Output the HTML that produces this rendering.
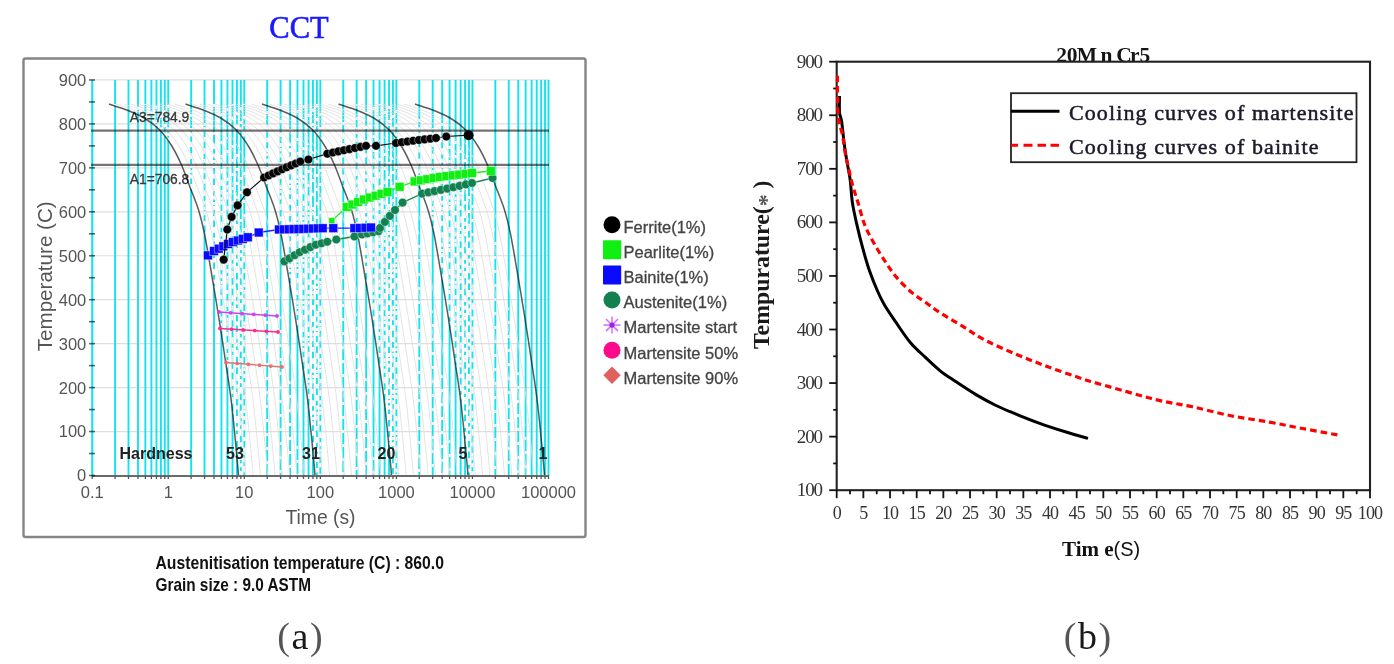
<!DOCTYPE html>
<html><head><meta charset="utf-8"><style>
html,body{margin:0;padding:0;background:#fff;overflow:hidden;}
svg{display:block;filter:blur(0.6px);}
</style></head><body>
<svg width="1394" height="664" viewBox="0 0 1394 664">
<defs><clipPath id="pa"><rect x="92" y="80" width="458" height="396"/></clipPath><clipPath id="fan"><polygon points="109,104 128,110.5 145,118.5 159.5,129.8 171.8,146 181.5,165 189.7,186.4 198.3,209.3 204.5,234 210.9,270 218.8,317.5 225.1,358.6 231.5,403 237.2,460 238.5,476 300.5,476 299.2,460 293.5,403 287.1,358.6 280.8,317.5 272.9,270 266.5,234 260.3,209.3 251.7,186.4 243.5,165 233.8,146 221.5,129.8 207,118.5 190,110.5 171,104"/><polygon points="185.5,104 204.5,110.5 221.5,118.5 236,129.8 248.3,146 258,165 266.2,186.4 274.8,209.3 281,234 287.4,270 295.3,317.5 301.6,358.6 308,403 313.7,460 315,476 377,476 375.7,460 370,403 363.6,358.6 357.3,317.5 349.4,270 343,234 336.8,209.3 328.2,186.4 320,165 310.3,146 298,129.8 283.5,118.5 266.5,110.5 247.5,104"/><polygon points="262,104 281,110.5 298,118.5 312.5,129.8 324.8,146 334.5,165 342.7,186.4 351.3,209.3 357.5,234 363.9,270 371.8,317.5 378.1,358.6 384.5,403 390.2,460 391.5,476 453.5,476 452.2,460 446.5,403 440.1,358.6 433.8,317.5 425.9,270 419.5,234 413.3,209.3 404.7,186.4 396.5,165 386.8,146 374.5,129.8 360,118.5 343,110.5 324,104"/><polygon points="338.5,104 357.5,110.5 374.5,118.5 389,129.8 401.3,146 411,165 419.2,186.4 427.8,209.3 434,234 440.4,270 448.3,317.5 454.6,358.6 461,403 466.7,460 468,476 530,476 528.7,460 523,403 516.6,358.6 510.3,317.5 502.4,270 496,234 489.8,209.3 481.2,186.4 473,165 463.3,146 451,129.8 436.5,118.5 419.5,110.5 400.5,104"/></clipPath><clipPath id="wedge"><polygon points="150,124 159.5,129.8 171.8,146 181.5,165 189.7,186.4 198.3,209.3 204.5,234 210.9,270 218.8,317.5 225.1,358.6 231.5,403 237.2,460 238.5,476 246,476 246,250 236,205 222,160 206,127"/><polygon points="226.5,124 236,129.8 248.3,146 258,165 266.2,186.4 274.8,209.3 281,234 287.4,270 295.3,317.5 301.6,358.6 308,403 313.7,460 315,476 322.5,476 322.5,250 312.5,205 298.5,160 282.5,127"/><polygon points="303,124 312.5,129.8 324.8,146 334.5,165 342.7,186.4 351.3,209.3 357.5,234 363.9,270 371.8,317.5 378.1,358.6 384.5,403 390.2,460 391.5,476 399,476 399,250 389,205 375,160 359,127"/><polygon points="379.5,124 389,129.8 401.3,146 411,165 419.2,186.4 427.8,209.3 434,234 440.4,270 448.3,317.5 454.6,358.6 461,403 466.7,460 468,476 475.5,476 475.5,250 465.5,205 451.5,160 435.5,127"/></clipPath></defs>
<rect width="1394" height="664" fill="#fff"/>
<text x="299" y="37.5" font-family="'Liberation Serif',serif" font-size="30.5" fill="#1a1aff" text-anchor="middle" stroke="#1a1aff" stroke-width="0.6">CCT</text>
<rect x="23.5" y="58.5" width="562" height="478.5" rx="2" fill="#fff" stroke="#858585" stroke-width="2.4"/>
<line x1="92" y1="431.55" x2="549" y2="431.55" stroke="#e4dcdc" stroke-width="1.2"/>
<line x1="92" y1="387.6" x2="549" y2="387.6" stroke="#e4dcdc" stroke-width="1.2"/>
<line x1="92" y1="343.65" x2="549" y2="343.65" stroke="#e4dcdc" stroke-width="1.2"/>
<line x1="92" y1="299.7" x2="549" y2="299.7" stroke="#e4dcdc" stroke-width="1.2"/>
<line x1="92" y1="255.75" x2="549" y2="255.75" stroke="#e4dcdc" stroke-width="1.2"/>
<line x1="92" y1="211.8" x2="549" y2="211.8" stroke="#e4dcdc" stroke-width="1.2"/>
<line x1="92" y1="167.85" x2="549" y2="167.85" stroke="#e4dcdc" stroke-width="1.2"/>
<line x1="92" y1="123.9" x2="549" y2="123.9" stroke="#e4dcdc" stroke-width="1.2"/>
<line x1="92" y1="79.95" x2="549" y2="79.95" stroke="#e4dcdc" stroke-width="1.2"/>
<g clip-path="url(#pa)" stroke="#12e4ee" stroke-width="1.9"><line x1="92.2" y1="80" x2="92.2" y2="476"/><line x1="115.09" y1="80" x2="115.09" y2="476"/><line x1="128.49" y1="80" x2="128.49" y2="476"/><line x1="137.99" y1="80" x2="137.99" y2="476"/><line x1="145.36" y1="80" x2="145.36" y2="476"/><line x1="151.38" y1="80" x2="151.38" y2="476"/><line x1="156.47" y1="80" x2="156.47" y2="476"/><line x1="160.88" y1="80" x2="160.88" y2="476"/><line x1="164.77" y1="80" x2="164.77" y2="476"/><line x1="168.25" y1="80" x2="168.25" y2="476"/><line x1="191.14" y1="80" x2="191.14" y2="476"/><line x1="204.54" y1="80" x2="204.54" y2="476"/><line x1="214.04" y1="80" x2="214.04" y2="476"/><line x1="221.41" y1="80" x2="221.41" y2="476"/><line x1="227.43" y1="80" x2="227.43" y2="476"/><line x1="232.52" y1="80" x2="232.52" y2="476"/><line x1="236.93" y1="80" x2="236.93" y2="476"/><line x1="240.82" y1="80" x2="240.82" y2="476"/><line x1="244.3" y1="80" x2="244.3" y2="476"/><line x1="267.19" y1="80" x2="267.19" y2="476"/><line x1="280.59" y1="80" x2="280.59" y2="476"/><line x1="290.09" y1="80" x2="290.09" y2="476"/><line x1="297.46" y1="80" x2="297.46" y2="476"/><line x1="303.48" y1="80" x2="303.48" y2="476"/><line x1="308.57" y1="80" x2="308.57" y2="476"/><line x1="312.98" y1="80" x2="312.98" y2="476"/><line x1="316.87" y1="80" x2="316.87" y2="476"/><line x1="320.35" y1="80" x2="320.35" y2="476"/><line x1="343.24" y1="80" x2="343.24" y2="476"/><line x1="356.64" y1="80" x2="356.64" y2="476"/><line x1="366.14" y1="80" x2="366.14" y2="476"/><line x1="373.51" y1="80" x2="373.51" y2="476"/><line x1="379.53" y1="80" x2="379.53" y2="476"/><line x1="384.62" y1="80" x2="384.62" y2="476"/><line x1="389.03" y1="80" x2="389.03" y2="476"/><line x1="392.92" y1="80" x2="392.92" y2="476"/><line x1="396.4" y1="80" x2="396.4" y2="476"/><line x1="419.29" y1="80" x2="419.29" y2="476"/><line x1="432.69" y1="80" x2="432.69" y2="476"/><line x1="442.19" y1="80" x2="442.19" y2="476"/><line x1="449.56" y1="80" x2="449.56" y2="476"/><line x1="455.58" y1="80" x2="455.58" y2="476"/><line x1="460.67" y1="80" x2="460.67" y2="476"/><line x1="465.08" y1="80" x2="465.08" y2="476"/><line x1="468.97" y1="80" x2="468.97" y2="476"/><line x1="472.45" y1="80" x2="472.45" y2="476"/><line x1="495.34" y1="80" x2="495.34" y2="476"/><line x1="508.74" y1="80" x2="508.74" y2="476"/><line x1="518.24" y1="80" x2="518.24" y2="476"/><line x1="525.61" y1="80" x2="525.61" y2="476"/><line x1="531.63" y1="80" x2="531.63" y2="476"/><line x1="536.72" y1="80" x2="536.72" y2="476"/><line x1="541.13" y1="80" x2="541.13" y2="476"/><line x1="545.02" y1="80" x2="545.02" y2="476"/><line x1="548.5" y1="80" x2="548.5" y2="476"/></g>
<g clip-path="url(#fan)" stroke="#fbf6f6" stroke-width="2.3" stroke-dasharray="3 11"><line x1="92.2" y1="80" x2="92.2" y2="476" stroke-dashoffset="0"/><line x1="115.09" y1="80" x2="115.09" y2="476" stroke-dashoffset="5"/><line x1="128.49" y1="80" x2="128.49" y2="476" stroke-dashoffset="10"/><line x1="137.99" y1="80" x2="137.99" y2="476" stroke-dashoffset="1"/><line x1="145.36" y1="80" x2="145.36" y2="476" stroke-dashoffset="6"/><line x1="151.38" y1="80" x2="151.38" y2="476" stroke-dashoffset="11"/><line x1="156.47" y1="80" x2="156.47" y2="476" stroke-dashoffset="2"/><line x1="160.88" y1="80" x2="160.88" y2="476" stroke-dashoffset="7"/><line x1="164.77" y1="80" x2="164.77" y2="476" stroke-dashoffset="12"/><line x1="168.25" y1="80" x2="168.25" y2="476" stroke-dashoffset="3"/><line x1="191.14" y1="80" x2="191.14" y2="476" stroke-dashoffset="8"/><line x1="204.54" y1="80" x2="204.54" y2="476" stroke-dashoffset="13"/><line x1="214.04" y1="80" x2="214.04" y2="476" stroke-dashoffset="4"/><line x1="221.41" y1="80" x2="221.41" y2="476" stroke-dashoffset="9"/><line x1="227.43" y1="80" x2="227.43" y2="476" stroke-dashoffset="0"/><line x1="232.52" y1="80" x2="232.52" y2="476" stroke-dashoffset="5"/><line x1="236.93" y1="80" x2="236.93" y2="476" stroke-dashoffset="10"/><line x1="240.82" y1="80" x2="240.82" y2="476" stroke-dashoffset="1"/><line x1="244.3" y1="80" x2="244.3" y2="476" stroke-dashoffset="6"/><line x1="267.19" y1="80" x2="267.19" y2="476" stroke-dashoffset="11"/><line x1="280.59" y1="80" x2="280.59" y2="476" stroke-dashoffset="2"/><line x1="290.09" y1="80" x2="290.09" y2="476" stroke-dashoffset="7"/><line x1="297.46" y1="80" x2="297.46" y2="476" stroke-dashoffset="12"/><line x1="303.48" y1="80" x2="303.48" y2="476" stroke-dashoffset="3"/><line x1="308.57" y1="80" x2="308.57" y2="476" stroke-dashoffset="8"/><line x1="312.98" y1="80" x2="312.98" y2="476" stroke-dashoffset="13"/><line x1="316.87" y1="80" x2="316.87" y2="476" stroke-dashoffset="4"/><line x1="320.35" y1="80" x2="320.35" y2="476" stroke-dashoffset="9"/><line x1="343.24" y1="80" x2="343.24" y2="476" stroke-dashoffset="0"/><line x1="356.64" y1="80" x2="356.64" y2="476" stroke-dashoffset="5"/><line x1="366.14" y1="80" x2="366.14" y2="476" stroke-dashoffset="10"/><line x1="373.51" y1="80" x2="373.51" y2="476" stroke-dashoffset="1"/><line x1="379.53" y1="80" x2="379.53" y2="476" stroke-dashoffset="6"/><line x1="384.62" y1="80" x2="384.62" y2="476" stroke-dashoffset="11"/><line x1="389.03" y1="80" x2="389.03" y2="476" stroke-dashoffset="2"/><line x1="392.92" y1="80" x2="392.92" y2="476" stroke-dashoffset="7"/><line x1="396.4" y1="80" x2="396.4" y2="476" stroke-dashoffset="12"/><line x1="419.29" y1="80" x2="419.29" y2="476" stroke-dashoffset="3"/><line x1="432.69" y1="80" x2="432.69" y2="476" stroke-dashoffset="8"/><line x1="442.19" y1="80" x2="442.19" y2="476" stroke-dashoffset="13"/><line x1="449.56" y1="80" x2="449.56" y2="476" stroke-dashoffset="4"/><line x1="455.58" y1="80" x2="455.58" y2="476" stroke-dashoffset="9"/><line x1="460.67" y1="80" x2="460.67" y2="476" stroke-dashoffset="0"/><line x1="465.08" y1="80" x2="465.08" y2="476" stroke-dashoffset="5"/><line x1="468.97" y1="80" x2="468.97" y2="476" stroke-dashoffset="10"/><line x1="472.45" y1="80" x2="472.45" y2="476" stroke-dashoffset="1"/><line x1="495.34" y1="80" x2="495.34" y2="476" stroke-dashoffset="6"/><line x1="508.74" y1="80" x2="508.74" y2="476" stroke-dashoffset="11"/><line x1="518.24" y1="80" x2="518.24" y2="476" stroke-dashoffset="2"/><line x1="525.61" y1="80" x2="525.61" y2="476" stroke-dashoffset="7"/><line x1="531.63" y1="80" x2="531.63" y2="476" stroke-dashoffset="12"/><line x1="536.72" y1="80" x2="536.72" y2="476" stroke-dashoffset="3"/><line x1="541.13" y1="80" x2="541.13" y2="476" stroke-dashoffset="8"/><line x1="545.02" y1="80" x2="545.02" y2="476" stroke-dashoffset="13"/><line x1="548.5" y1="80" x2="548.5" y2="476" stroke-dashoffset="4"/></g>
<g clip-path="url(#wedge)" stroke="#fbf6f6" stroke-width="2.3" stroke-dasharray="4 6.5"><line x1="92.2" y1="80" x2="92.2" y2="476" stroke-dashoffset="0.0"/><line x1="115.09" y1="80" x2="115.09" y2="476" stroke-dashoffset="5.2"/><line x1="128.49" y1="80" x2="128.49" y2="476" stroke-dashoffset="0.0"/><line x1="137.99" y1="80" x2="137.99" y2="476" stroke-dashoffset="5.2"/><line x1="145.36" y1="80" x2="145.36" y2="476" stroke-dashoffset="0.0"/><line x1="151.38" y1="80" x2="151.38" y2="476" stroke-dashoffset="5.2"/><line x1="156.47" y1="80" x2="156.47" y2="476" stroke-dashoffset="0.0"/><line x1="160.88" y1="80" x2="160.88" y2="476" stroke-dashoffset="5.2"/><line x1="164.77" y1="80" x2="164.77" y2="476" stroke-dashoffset="0.0"/><line x1="168.25" y1="80" x2="168.25" y2="476" stroke-dashoffset="5.2"/><line x1="191.14" y1="80" x2="191.14" y2="476" stroke-dashoffset="0.0"/><line x1="204.54" y1="80" x2="204.54" y2="476" stroke-dashoffset="5.2"/><line x1="214.04" y1="80" x2="214.04" y2="476" stroke-dashoffset="0.0"/><line x1="221.41" y1="80" x2="221.41" y2="476" stroke-dashoffset="5.2"/><line x1="227.43" y1="80" x2="227.43" y2="476" stroke-dashoffset="0.0"/><line x1="232.52" y1="80" x2="232.52" y2="476" stroke-dashoffset="5.2"/><line x1="236.93" y1="80" x2="236.93" y2="476" stroke-dashoffset="0.0"/><line x1="240.82" y1="80" x2="240.82" y2="476" stroke-dashoffset="5.2"/><line x1="244.3" y1="80" x2="244.3" y2="476" stroke-dashoffset="0.0"/><line x1="267.19" y1="80" x2="267.19" y2="476" stroke-dashoffset="5.2"/><line x1="280.59" y1="80" x2="280.59" y2="476" stroke-dashoffset="0.0"/><line x1="290.09" y1="80" x2="290.09" y2="476" stroke-dashoffset="5.2"/><line x1="297.46" y1="80" x2="297.46" y2="476" stroke-dashoffset="0.0"/><line x1="303.48" y1="80" x2="303.48" y2="476" stroke-dashoffset="5.2"/><line x1="308.57" y1="80" x2="308.57" y2="476" stroke-dashoffset="0.0"/><line x1="312.98" y1="80" x2="312.98" y2="476" stroke-dashoffset="5.2"/><line x1="316.87" y1="80" x2="316.87" y2="476" stroke-dashoffset="0.0"/><line x1="320.35" y1="80" x2="320.35" y2="476" stroke-dashoffset="5.2"/><line x1="343.24" y1="80" x2="343.24" y2="476" stroke-dashoffset="0.0"/><line x1="356.64" y1="80" x2="356.64" y2="476" stroke-dashoffset="5.2"/><line x1="366.14" y1="80" x2="366.14" y2="476" stroke-dashoffset="0.0"/><line x1="373.51" y1="80" x2="373.51" y2="476" stroke-dashoffset="5.2"/><line x1="379.53" y1="80" x2="379.53" y2="476" stroke-dashoffset="0.0"/><line x1="384.62" y1="80" x2="384.62" y2="476" stroke-dashoffset="5.2"/><line x1="389.03" y1="80" x2="389.03" y2="476" stroke-dashoffset="0.0"/><line x1="392.92" y1="80" x2="392.92" y2="476" stroke-dashoffset="5.2"/><line x1="396.4" y1="80" x2="396.4" y2="476" stroke-dashoffset="0.0"/><line x1="419.29" y1="80" x2="419.29" y2="476" stroke-dashoffset="5.2"/><line x1="432.69" y1="80" x2="432.69" y2="476" stroke-dashoffset="0.0"/><line x1="442.19" y1="80" x2="442.19" y2="476" stroke-dashoffset="5.2"/><line x1="449.56" y1="80" x2="449.56" y2="476" stroke-dashoffset="0.0"/><line x1="455.58" y1="80" x2="455.58" y2="476" stroke-dashoffset="5.2"/><line x1="460.67" y1="80" x2="460.67" y2="476" stroke-dashoffset="0.0"/><line x1="465.08" y1="80" x2="465.08" y2="476" stroke-dashoffset="5.2"/><line x1="468.97" y1="80" x2="468.97" y2="476" stroke-dashoffset="0.0"/><line x1="472.45" y1="80" x2="472.45" y2="476" stroke-dashoffset="5.2"/><line x1="495.34" y1="80" x2="495.34" y2="476" stroke-dashoffset="0.0"/><line x1="508.74" y1="80" x2="508.74" y2="476" stroke-dashoffset="5.2"/><line x1="518.24" y1="80" x2="518.24" y2="476" stroke-dashoffset="0.0"/><line x1="525.61" y1="80" x2="525.61" y2="476" stroke-dashoffset="5.2"/><line x1="531.63" y1="80" x2="531.63" y2="476" stroke-dashoffset="0.0"/><line x1="536.72" y1="80" x2="536.72" y2="476" stroke-dashoffset="5.2"/><line x1="541.13" y1="80" x2="541.13" y2="476" stroke-dashoffset="0.0"/><line x1="545.02" y1="80" x2="545.02" y2="476" stroke-dashoffset="5.2"/><line x1="548.5" y1="80" x2="548.5" y2="476" stroke-dashoffset="0.0"/></g>
<g clip-path="url(#pa)" fill="none" stroke="#dedede" stroke-width="0.85"><path d="M116.3,104 C119.47,105.08 129.3,108.08 135.3,110.5 C141.3,112.92 147.05,115.28 152.3,118.5 C157.55,121.72 162.33,125.22 166.8,129.8 C171.27,134.38 175.43,140.13 179.1,146 C182.77,151.87 185.82,158.27 188.8,165 C191.78,171.73 194.2,179.02 197,186.4 C199.8,193.78 203.13,201.37 205.6,209.3 C208.07,217.23 209.7,223.88 211.8,234 C213.9,244.12 215.82,256.08 218.2,270 C220.58,283.92 223.73,302.73 226.1,317.5 C228.47,332.27 230.28,344.35 232.4,358.6 C234.52,372.85 236.78,386.1 238.8,403 C240.82,419.9 243.33,447.83 244.5,460 C245.67,472.17 245.58,473.33 245.8,476"/><path d="M123.6,104 C126.77,105.08 136.6,108.08 142.6,110.5 C148.6,112.92 154.35,115.28 159.6,118.5 C164.85,121.72 169.63,125.22 174.1,129.8 C178.57,134.38 182.73,140.13 186.4,146 C190.07,151.87 193.12,158.27 196.1,165 C199.08,171.73 201.5,179.02 204.3,186.4 C207.1,193.78 210.43,201.37 212.9,209.3 C215.37,217.23 217,223.88 219.1,234 C221.2,244.12 223.12,256.08 225.5,270 C227.88,283.92 231.03,302.73 233.4,317.5 C235.77,332.27 237.58,344.35 239.7,358.6 C241.82,372.85 244.08,386.1 246.1,403 C248.12,419.9 250.63,447.83 251.8,460 C252.97,472.17 252.88,473.33 253.1,476"/><path d="M130.9,104 C134.07,105.08 143.9,108.08 149.9,110.5 C155.9,112.92 161.65,115.28 166.9,118.5 C172.15,121.72 176.93,125.22 181.4,129.8 C185.87,134.38 190.03,140.13 193.7,146 C197.37,151.87 200.42,158.27 203.4,165 C206.38,171.73 208.8,179.02 211.6,186.4 C214.4,193.78 217.73,201.37 220.2,209.3 C222.67,217.23 224.3,223.88 226.4,234 C228.5,244.12 230.42,256.08 232.8,270 C235.18,283.92 238.33,302.73 240.7,317.5 C243.07,332.27 244.88,344.35 247,358.6 C249.12,372.85 251.38,386.1 253.4,403 C255.42,419.9 257.93,447.83 259.1,460 C260.27,472.17 260.18,473.33 260.4,476"/><path d="M138.2,104 C141.37,105.08 151.2,108.08 157.2,110.5 C163.2,112.92 168.95,115.28 174.2,118.5 C179.45,121.72 184.23,125.22 188.7,129.8 C193.17,134.38 197.33,140.13 201,146 C204.67,151.87 207.72,158.27 210.7,165 C213.68,171.73 216.1,179.02 218.9,186.4 C221.7,193.78 225.03,201.37 227.5,209.3 C229.97,217.23 231.6,223.88 233.7,234 C235.8,244.12 237.72,256.08 240.1,270 C242.48,283.92 245.63,302.73 248,317.5 C250.37,332.27 252.18,344.35 254.3,358.6 C256.42,372.85 258.68,386.1 260.7,403 C262.72,419.9 265.23,447.83 266.4,460 C267.57,472.17 267.48,473.33 267.7,476"/><path d="M145.5,104 C148.67,105.08 158.5,108.08 164.5,110.5 C170.5,112.92 176.25,115.28 181.5,118.5 C186.75,121.72 191.53,125.22 196,129.8 C200.47,134.38 204.63,140.13 208.3,146 C211.97,151.87 215.02,158.27 218,165 C220.98,171.73 223.4,179.02 226.2,186.4 C229,193.78 232.33,201.37 234.8,209.3 C237.27,217.23 238.9,223.88 241,234 C243.1,244.12 245.02,256.08 247.4,270 C249.78,283.92 252.93,302.73 255.3,317.5 C257.67,332.27 259.48,344.35 261.6,358.6 C263.72,372.85 265.98,386.1 268,403 C270.02,419.9 272.53,447.83 273.7,460 C274.87,472.17 274.78,473.33 275,476"/><path d="M152.8,104 C155.97,105.08 165.8,108.08 171.8,110.5 C177.8,112.92 183.55,115.28 188.8,118.5 C194.05,121.72 198.83,125.22 203.3,129.8 C207.77,134.38 211.93,140.13 215.6,146 C219.27,151.87 222.32,158.27 225.3,165 C228.28,171.73 230.7,179.02 233.5,186.4 C236.3,193.78 239.63,201.37 242.1,209.3 C244.57,217.23 246.2,223.88 248.3,234 C250.4,244.12 252.32,256.08 254.7,270 C257.08,283.92 260.23,302.73 262.6,317.5 C264.97,332.27 266.78,344.35 268.9,358.6 C271.02,372.85 273.28,386.1 275.3,403 C277.32,419.9 279.83,447.83 281,460 C282.17,472.17 282.08,473.33 282.3,476"/><path d="M160.1,104 C163.27,105.08 173.1,108.08 179.1,110.5 C185.1,112.92 190.85,115.28 196.1,118.5 C201.35,121.72 206.13,125.22 210.6,129.8 C215.07,134.38 219.23,140.13 222.9,146 C226.57,151.87 229.62,158.27 232.6,165 C235.58,171.73 238,179.02 240.8,186.4 C243.6,193.78 246.93,201.37 249.4,209.3 C251.87,217.23 253.5,223.88 255.6,234 C257.7,244.12 259.62,256.08 262,270 C264.38,283.92 267.53,302.73 269.9,317.5 C272.27,332.27 274.08,344.35 276.2,358.6 C278.32,372.85 280.58,386.1 282.6,403 C284.62,419.9 287.13,447.83 288.3,460 C289.47,472.17 289.38,473.33 289.6,476"/><path d="M167.4,104 C170.57,105.08 180.4,108.08 186.4,110.5 C192.4,112.92 198.15,115.28 203.4,118.5 C208.65,121.72 213.43,125.22 217.9,129.8 C222.37,134.38 226.53,140.13 230.2,146 C233.87,151.87 236.92,158.27 239.9,165 C242.88,171.73 245.3,179.02 248.1,186.4 C250.9,193.78 254.23,201.37 256.7,209.3 C259.17,217.23 260.8,223.88 262.9,234 C265,244.12 266.92,256.08 269.3,270 C271.68,283.92 274.83,302.73 277.2,317.5 C279.57,332.27 281.38,344.35 283.5,358.6 C285.62,372.85 287.88,386.1 289.9,403 C291.92,419.9 294.43,447.83 295.6,460 C296.77,472.17 296.68,473.33 296.9,476"/><path d="M174.7,104 C177.87,105.08 187.7,108.08 193.7,110.5 C199.7,112.92 205.45,115.28 210.7,118.5 C215.95,121.72 220.73,125.22 225.2,129.8 C229.67,134.38 233.83,140.13 237.5,146 C241.17,151.87 244.22,158.27 247.2,165 C250.18,171.73 252.6,179.02 255.4,186.4 C258.2,193.78 261.53,201.37 264,209.3 C266.47,217.23 268.1,223.88 270.2,234 C272.3,244.12 274.22,256.08 276.6,270 C278.98,283.92 282.13,302.73 284.5,317.5 C286.87,332.27 288.68,344.35 290.8,358.6 C292.92,372.85 295.18,386.1 297.2,403 C299.22,419.9 301.73,447.83 302.9,460 C304.07,472.17 303.98,473.33 304.2,476"/><path d="M192.8,104 C195.97,105.08 205.8,108.08 211.8,110.5 C217.8,112.92 223.55,115.28 228.8,118.5 C234.05,121.72 238.83,125.22 243.3,129.8 C247.77,134.38 251.93,140.13 255.6,146 C259.27,151.87 262.32,158.27 265.3,165 C268.28,171.73 270.7,179.02 273.5,186.4 C276.3,193.78 279.63,201.37 282.1,209.3 C284.57,217.23 286.2,223.88 288.3,234 C290.4,244.12 292.32,256.08 294.7,270 C297.08,283.92 300.23,302.73 302.6,317.5 C304.97,332.27 306.78,344.35 308.9,358.6 C311.02,372.85 313.28,386.1 315.3,403 C317.32,419.9 319.83,447.83 321,460 C322.17,472.17 322.08,473.33 322.3,476"/><path d="M200.1,104 C203.27,105.08 213.1,108.08 219.1,110.5 C225.1,112.92 230.85,115.28 236.1,118.5 C241.35,121.72 246.13,125.22 250.6,129.8 C255.07,134.38 259.23,140.13 262.9,146 C266.57,151.87 269.62,158.27 272.6,165 C275.58,171.73 278,179.02 280.8,186.4 C283.6,193.78 286.93,201.37 289.4,209.3 C291.87,217.23 293.5,223.88 295.6,234 C297.7,244.12 299.62,256.08 302,270 C304.38,283.92 307.53,302.73 309.9,317.5 C312.27,332.27 314.08,344.35 316.2,358.6 C318.32,372.85 320.58,386.1 322.6,403 C324.62,419.9 327.13,447.83 328.3,460 C329.47,472.17 329.38,473.33 329.6,476"/><path d="M207.4,104 C210.57,105.08 220.4,108.08 226.4,110.5 C232.4,112.92 238.15,115.28 243.4,118.5 C248.65,121.72 253.43,125.22 257.9,129.8 C262.37,134.38 266.53,140.13 270.2,146 C273.87,151.87 276.92,158.27 279.9,165 C282.88,171.73 285.3,179.02 288.1,186.4 C290.9,193.78 294.23,201.37 296.7,209.3 C299.17,217.23 300.8,223.88 302.9,234 C305,244.12 306.92,256.08 309.3,270 C311.68,283.92 314.83,302.73 317.2,317.5 C319.57,332.27 321.38,344.35 323.5,358.6 C325.62,372.85 327.88,386.1 329.9,403 C331.92,419.9 334.43,447.83 335.6,460 C336.77,472.17 336.68,473.33 336.9,476"/><path d="M214.7,104 C217.87,105.08 227.7,108.08 233.7,110.5 C239.7,112.92 245.45,115.28 250.7,118.5 C255.95,121.72 260.73,125.22 265.2,129.8 C269.67,134.38 273.83,140.13 277.5,146 C281.17,151.87 284.22,158.27 287.2,165 C290.18,171.73 292.6,179.02 295.4,186.4 C298.2,193.78 301.53,201.37 304,209.3 C306.47,217.23 308.1,223.88 310.2,234 C312.3,244.12 314.22,256.08 316.6,270 C318.98,283.92 322.13,302.73 324.5,317.5 C326.87,332.27 328.68,344.35 330.8,358.6 C332.92,372.85 335.18,386.1 337.2,403 C339.22,419.9 341.73,447.83 342.9,460 C344.07,472.17 343.98,473.33 344.2,476"/><path d="M222,104 C225.17,105.08 235,108.08 241,110.5 C247,112.92 252.75,115.28 258,118.5 C263.25,121.72 268.03,125.22 272.5,129.8 C276.97,134.38 281.13,140.13 284.8,146 C288.47,151.87 291.52,158.27 294.5,165 C297.48,171.73 299.9,179.02 302.7,186.4 C305.5,193.78 308.83,201.37 311.3,209.3 C313.77,217.23 315.4,223.88 317.5,234 C319.6,244.12 321.52,256.08 323.9,270 C326.28,283.92 329.43,302.73 331.8,317.5 C334.17,332.27 335.98,344.35 338.1,358.6 C340.22,372.85 342.48,386.1 344.5,403 C346.52,419.9 349.03,447.83 350.2,460 C351.37,472.17 351.28,473.33 351.5,476"/><path d="M229.3,104 C232.47,105.08 242.3,108.08 248.3,110.5 C254.3,112.92 260.05,115.28 265.3,118.5 C270.55,121.72 275.33,125.22 279.8,129.8 C284.27,134.38 288.43,140.13 292.1,146 C295.77,151.87 298.82,158.27 301.8,165 C304.78,171.73 307.2,179.02 310,186.4 C312.8,193.78 316.13,201.37 318.6,209.3 C321.07,217.23 322.7,223.88 324.8,234 C326.9,244.12 328.82,256.08 331.2,270 C333.58,283.92 336.73,302.73 339.1,317.5 C341.47,332.27 343.28,344.35 345.4,358.6 C347.52,372.85 349.78,386.1 351.8,403 C353.82,419.9 356.33,447.83 357.5,460 C358.67,472.17 358.58,473.33 358.8,476"/><path d="M236.6,104 C239.77,105.08 249.6,108.08 255.6,110.5 C261.6,112.92 267.35,115.28 272.6,118.5 C277.85,121.72 282.63,125.22 287.1,129.8 C291.57,134.38 295.73,140.13 299.4,146 C303.07,151.87 306.12,158.27 309.1,165 C312.08,171.73 314.5,179.02 317.3,186.4 C320.1,193.78 323.43,201.37 325.9,209.3 C328.37,217.23 330,223.88 332.1,234 C334.2,244.12 336.12,256.08 338.5,270 C340.88,283.92 344.03,302.73 346.4,317.5 C348.77,332.27 350.58,344.35 352.7,358.6 C354.82,372.85 357.08,386.1 359.1,403 C361.12,419.9 363.63,447.83 364.8,460 C365.97,472.17 365.88,473.33 366.1,476"/><path d="M243.9,104 C247.07,105.08 256.9,108.08 262.9,110.5 C268.9,112.92 274.65,115.28 279.9,118.5 C285.15,121.72 289.93,125.22 294.4,129.8 C298.87,134.38 303.03,140.13 306.7,146 C310.37,151.87 313.42,158.27 316.4,165 C319.38,171.73 321.8,179.02 324.6,186.4 C327.4,193.78 330.73,201.37 333.2,209.3 C335.67,217.23 337.3,223.88 339.4,234 C341.5,244.12 343.42,256.08 345.8,270 C348.18,283.92 351.33,302.73 353.7,317.5 C356.07,332.27 357.88,344.35 360,358.6 C362.12,372.85 364.38,386.1 366.4,403 C368.42,419.9 370.93,447.83 372.1,460 C373.27,472.17 373.18,473.33 373.4,476"/><path d="M251.2,104 C254.37,105.08 264.2,108.08 270.2,110.5 C276.2,112.92 281.95,115.28 287.2,118.5 C292.45,121.72 297.23,125.22 301.7,129.8 C306.17,134.38 310.33,140.13 314,146 C317.67,151.87 320.72,158.27 323.7,165 C326.68,171.73 329.1,179.02 331.9,186.4 C334.7,193.78 338.03,201.37 340.5,209.3 C342.97,217.23 344.6,223.88 346.7,234 C348.8,244.12 350.72,256.08 353.1,270 C355.48,283.92 358.63,302.73 361,317.5 C363.37,332.27 365.18,344.35 367.3,358.6 C369.42,372.85 371.68,386.1 373.7,403 C375.72,419.9 378.23,447.83 379.4,460 C380.57,472.17 380.48,473.33 380.7,476"/><path d="M269.3,104 C272.47,105.08 282.3,108.08 288.3,110.5 C294.3,112.92 300.05,115.28 305.3,118.5 C310.55,121.72 315.33,125.22 319.8,129.8 C324.27,134.38 328.43,140.13 332.1,146 C335.77,151.87 338.82,158.27 341.8,165 C344.78,171.73 347.2,179.02 350,186.4 C352.8,193.78 356.13,201.37 358.6,209.3 C361.07,217.23 362.7,223.88 364.8,234 C366.9,244.12 368.82,256.08 371.2,270 C373.58,283.92 376.73,302.73 379.1,317.5 C381.47,332.27 383.28,344.35 385.4,358.6 C387.52,372.85 389.78,386.1 391.8,403 C393.82,419.9 396.33,447.83 397.5,460 C398.67,472.17 398.58,473.33 398.8,476"/><path d="M276.6,104 C279.77,105.08 289.6,108.08 295.6,110.5 C301.6,112.92 307.35,115.28 312.6,118.5 C317.85,121.72 322.63,125.22 327.1,129.8 C331.57,134.38 335.73,140.13 339.4,146 C343.07,151.87 346.12,158.27 349.1,165 C352.08,171.73 354.5,179.02 357.3,186.4 C360.1,193.78 363.43,201.37 365.9,209.3 C368.37,217.23 370,223.88 372.1,234 C374.2,244.12 376.12,256.08 378.5,270 C380.88,283.92 384.03,302.73 386.4,317.5 C388.77,332.27 390.58,344.35 392.7,358.6 C394.82,372.85 397.08,386.1 399.1,403 C401.12,419.9 403.63,447.83 404.8,460 C405.97,472.17 405.88,473.33 406.1,476"/><path d="M283.9,104 C287.07,105.08 296.9,108.08 302.9,110.5 C308.9,112.92 314.65,115.28 319.9,118.5 C325.15,121.72 329.93,125.22 334.4,129.8 C338.87,134.38 343.03,140.13 346.7,146 C350.37,151.87 353.42,158.27 356.4,165 C359.38,171.73 361.8,179.02 364.6,186.4 C367.4,193.78 370.73,201.37 373.2,209.3 C375.67,217.23 377.3,223.88 379.4,234 C381.5,244.12 383.42,256.08 385.8,270 C388.18,283.92 391.33,302.73 393.7,317.5 C396.07,332.27 397.88,344.35 400,358.6 C402.12,372.85 404.38,386.1 406.4,403 C408.42,419.9 410.93,447.83 412.1,460 C413.27,472.17 413.18,473.33 413.4,476"/><path d="M291.2,104 C294.37,105.08 304.2,108.08 310.2,110.5 C316.2,112.92 321.95,115.28 327.2,118.5 C332.45,121.72 337.23,125.22 341.7,129.8 C346.17,134.38 350.33,140.13 354,146 C357.67,151.87 360.72,158.27 363.7,165 C366.68,171.73 369.1,179.02 371.9,186.4 C374.7,193.78 378.03,201.37 380.5,209.3 C382.97,217.23 384.6,223.88 386.7,234 C388.8,244.12 390.72,256.08 393.1,270 C395.48,283.92 398.63,302.73 401,317.5 C403.37,332.27 405.18,344.35 407.3,358.6 C409.42,372.85 411.68,386.1 413.7,403 C415.72,419.9 418.23,447.83 419.4,460 C420.57,472.17 420.48,473.33 420.7,476"/><path d="M298.5,104 C301.67,105.08 311.5,108.08 317.5,110.5 C323.5,112.92 329.25,115.28 334.5,118.5 C339.75,121.72 344.53,125.22 349,129.8 C353.47,134.38 357.63,140.13 361.3,146 C364.97,151.87 368.02,158.27 371,165 C373.98,171.73 376.4,179.02 379.2,186.4 C382,193.78 385.33,201.37 387.8,209.3 C390.27,217.23 391.9,223.88 394,234 C396.1,244.12 398.02,256.08 400.4,270 C402.78,283.92 405.93,302.73 408.3,317.5 C410.67,332.27 412.48,344.35 414.6,358.6 C416.72,372.85 418.98,386.1 421,403 C423.02,419.9 425.53,447.83 426.7,460 C427.87,472.17 427.78,473.33 428,476"/><path d="M305.8,104 C308.97,105.08 318.8,108.08 324.8,110.5 C330.8,112.92 336.55,115.28 341.8,118.5 C347.05,121.72 351.83,125.22 356.3,129.8 C360.77,134.38 364.93,140.13 368.6,146 C372.27,151.87 375.32,158.27 378.3,165 C381.28,171.73 383.7,179.02 386.5,186.4 C389.3,193.78 392.63,201.37 395.1,209.3 C397.57,217.23 399.2,223.88 401.3,234 C403.4,244.12 405.32,256.08 407.7,270 C410.08,283.92 413.23,302.73 415.6,317.5 C417.97,332.27 419.78,344.35 421.9,358.6 C424.02,372.85 426.28,386.1 428.3,403 C430.32,419.9 432.83,447.83 434,460 C435.17,472.17 435.08,473.33 435.3,476"/><path d="M313.1,104 C316.27,105.08 326.1,108.08 332.1,110.5 C338.1,112.92 343.85,115.28 349.1,118.5 C354.35,121.72 359.13,125.22 363.6,129.8 C368.07,134.38 372.23,140.13 375.9,146 C379.57,151.87 382.62,158.27 385.6,165 C388.58,171.73 391,179.02 393.8,186.4 C396.6,193.78 399.93,201.37 402.4,209.3 C404.87,217.23 406.5,223.88 408.6,234 C410.7,244.12 412.62,256.08 415,270 C417.38,283.92 420.53,302.73 422.9,317.5 C425.27,332.27 427.08,344.35 429.2,358.6 C431.32,372.85 433.58,386.1 435.6,403 C437.62,419.9 440.13,447.83 441.3,460 C442.47,472.17 442.38,473.33 442.6,476"/><path d="M320.4,104 C323.57,105.08 333.4,108.08 339.4,110.5 C345.4,112.92 351.15,115.28 356.4,118.5 C361.65,121.72 366.43,125.22 370.9,129.8 C375.37,134.38 379.53,140.13 383.2,146 C386.87,151.87 389.92,158.27 392.9,165 C395.88,171.73 398.3,179.02 401.1,186.4 C403.9,193.78 407.23,201.37 409.7,209.3 C412.17,217.23 413.8,223.88 415.9,234 C418,244.12 419.92,256.08 422.3,270 C424.68,283.92 427.83,302.73 430.2,317.5 C432.57,332.27 434.38,344.35 436.5,358.6 C438.62,372.85 440.88,386.1 442.9,403 C444.92,419.9 447.43,447.83 448.6,460 C449.77,472.17 449.68,473.33 449.9,476"/><path d="M327.7,104 C330.87,105.08 340.7,108.08 346.7,110.5 C352.7,112.92 358.45,115.28 363.7,118.5 C368.95,121.72 373.73,125.22 378.2,129.8 C382.67,134.38 386.83,140.13 390.5,146 C394.17,151.87 397.22,158.27 400.2,165 C403.18,171.73 405.6,179.02 408.4,186.4 C411.2,193.78 414.53,201.37 417,209.3 C419.47,217.23 421.1,223.88 423.2,234 C425.3,244.12 427.22,256.08 429.6,270 C431.98,283.92 435.13,302.73 437.5,317.5 C439.87,332.27 441.68,344.35 443.8,358.6 C445.92,372.85 448.18,386.1 450.2,403 C452.22,419.9 454.73,447.83 455.9,460 C457.07,472.17 456.98,473.33 457.2,476"/><path d="M345.8,104 C348.97,105.08 358.8,108.08 364.8,110.5 C370.8,112.92 376.55,115.28 381.8,118.5 C387.05,121.72 391.83,125.22 396.3,129.8 C400.77,134.38 404.93,140.13 408.6,146 C412.27,151.87 415.32,158.27 418.3,165 C421.28,171.73 423.7,179.02 426.5,186.4 C429.3,193.78 432.63,201.37 435.1,209.3 C437.57,217.23 439.2,223.88 441.3,234 C443.4,244.12 445.32,256.08 447.7,270 C450.08,283.92 453.23,302.73 455.6,317.5 C457.97,332.27 459.78,344.35 461.9,358.6 C464.02,372.85 466.28,386.1 468.3,403 C470.32,419.9 472.83,447.83 474,460 C475.17,472.17 475.08,473.33 475.3,476"/><path d="M353.1,104 C356.27,105.08 366.1,108.08 372.1,110.5 C378.1,112.92 383.85,115.28 389.1,118.5 C394.35,121.72 399.13,125.22 403.6,129.8 C408.07,134.38 412.23,140.13 415.9,146 C419.57,151.87 422.62,158.27 425.6,165 C428.58,171.73 431,179.02 433.8,186.4 C436.6,193.78 439.93,201.37 442.4,209.3 C444.87,217.23 446.5,223.88 448.6,234 C450.7,244.12 452.62,256.08 455,270 C457.38,283.92 460.53,302.73 462.9,317.5 C465.27,332.27 467.08,344.35 469.2,358.6 C471.32,372.85 473.58,386.1 475.6,403 C477.62,419.9 480.13,447.83 481.3,460 C482.47,472.17 482.38,473.33 482.6,476"/><path d="M360.4,104 C363.57,105.08 373.4,108.08 379.4,110.5 C385.4,112.92 391.15,115.28 396.4,118.5 C401.65,121.72 406.43,125.22 410.9,129.8 C415.37,134.38 419.53,140.13 423.2,146 C426.87,151.87 429.92,158.27 432.9,165 C435.88,171.73 438.3,179.02 441.1,186.4 C443.9,193.78 447.23,201.37 449.7,209.3 C452.17,217.23 453.8,223.88 455.9,234 C458,244.12 459.92,256.08 462.3,270 C464.68,283.92 467.83,302.73 470.2,317.5 C472.57,332.27 474.38,344.35 476.5,358.6 C478.62,372.85 480.88,386.1 482.9,403 C484.92,419.9 487.43,447.83 488.6,460 C489.77,472.17 489.68,473.33 489.9,476"/><path d="M367.7,104 C370.87,105.08 380.7,108.08 386.7,110.5 C392.7,112.92 398.45,115.28 403.7,118.5 C408.95,121.72 413.73,125.22 418.2,129.8 C422.67,134.38 426.83,140.13 430.5,146 C434.17,151.87 437.22,158.27 440.2,165 C443.18,171.73 445.6,179.02 448.4,186.4 C451.2,193.78 454.53,201.37 457,209.3 C459.47,217.23 461.1,223.88 463.2,234 C465.3,244.12 467.22,256.08 469.6,270 C471.98,283.92 475.13,302.73 477.5,317.5 C479.87,332.27 481.68,344.35 483.8,358.6 C485.92,372.85 488.18,386.1 490.2,403 C492.22,419.9 494.73,447.83 495.9,460 C497.07,472.17 496.98,473.33 497.2,476"/><path d="M375,104 C378.17,105.08 388,108.08 394,110.5 C400,112.92 405.75,115.28 411,118.5 C416.25,121.72 421.03,125.22 425.5,129.8 C429.97,134.38 434.13,140.13 437.8,146 C441.47,151.87 444.52,158.27 447.5,165 C450.48,171.73 452.9,179.02 455.7,186.4 C458.5,193.78 461.83,201.37 464.3,209.3 C466.77,217.23 468.4,223.88 470.5,234 C472.6,244.12 474.52,256.08 476.9,270 C479.28,283.92 482.43,302.73 484.8,317.5 C487.17,332.27 488.98,344.35 491.1,358.6 C493.22,372.85 495.48,386.1 497.5,403 C499.52,419.9 502.03,447.83 503.2,460 C504.37,472.17 504.28,473.33 504.5,476"/><path d="M382.3,104 C385.47,105.08 395.3,108.08 401.3,110.5 C407.3,112.92 413.05,115.28 418.3,118.5 C423.55,121.72 428.33,125.22 432.8,129.8 C437.27,134.38 441.43,140.13 445.1,146 C448.77,151.87 451.82,158.27 454.8,165 C457.78,171.73 460.2,179.02 463,186.4 C465.8,193.78 469.13,201.37 471.6,209.3 C474.07,217.23 475.7,223.88 477.8,234 C479.9,244.12 481.82,256.08 484.2,270 C486.58,283.92 489.73,302.73 492.1,317.5 C494.47,332.27 496.28,344.35 498.4,358.6 C500.52,372.85 502.78,386.1 504.8,403 C506.82,419.9 509.33,447.83 510.5,460 C511.67,472.17 511.58,473.33 511.8,476"/><path d="M389.6,104 C392.77,105.08 402.6,108.08 408.6,110.5 C414.6,112.92 420.35,115.28 425.6,118.5 C430.85,121.72 435.63,125.22 440.1,129.8 C444.57,134.38 448.73,140.13 452.4,146 C456.07,151.87 459.12,158.27 462.1,165 C465.08,171.73 467.5,179.02 470.3,186.4 C473.1,193.78 476.43,201.37 478.9,209.3 C481.37,217.23 483,223.88 485.1,234 C487.2,244.12 489.12,256.08 491.5,270 C493.88,283.92 497.03,302.73 499.4,317.5 C501.77,332.27 503.58,344.35 505.7,358.6 C507.82,372.85 510.08,386.1 512.1,403 C514.12,419.9 516.63,447.83 517.8,460 C518.97,472.17 518.88,473.33 519.1,476"/><path d="M396.9,104 C400.07,105.08 409.9,108.08 415.9,110.5 C421.9,112.92 427.65,115.28 432.9,118.5 C438.15,121.72 442.93,125.22 447.4,129.8 C451.87,134.38 456.03,140.13 459.7,146 C463.37,151.87 466.42,158.27 469.4,165 C472.38,171.73 474.8,179.02 477.6,186.4 C480.4,193.78 483.73,201.37 486.2,209.3 C488.67,217.23 490.3,223.88 492.4,234 C494.5,244.12 496.42,256.08 498.8,270 C501.18,283.92 504.33,302.73 506.7,317.5 C509.07,332.27 510.88,344.35 513,358.6 C515.12,372.85 517.38,386.1 519.4,403 C521.42,419.9 523.93,447.83 525.1,460 C526.27,472.17 526.18,473.33 526.4,476"/><path d="M404.2,104 C407.37,105.08 417.2,108.08 423.2,110.5 C429.2,112.92 434.95,115.28 440.2,118.5 C445.45,121.72 450.23,125.22 454.7,129.8 C459.17,134.38 463.33,140.13 467,146 C470.67,151.87 473.72,158.27 476.7,165 C479.68,171.73 482.1,179.02 484.9,186.4 C487.7,193.78 491.03,201.37 493.5,209.3 C495.97,217.23 497.6,223.88 499.7,234 C501.8,244.12 503.72,256.08 506.1,270 C508.48,283.92 511.63,302.73 514,317.5 C516.37,332.27 518.18,344.35 520.3,358.6 C522.42,372.85 524.68,386.1 526.7,403 C528.72,419.9 531.23,447.83 532.4,460 C533.57,472.17 533.48,473.33 533.7,476"/></g>
<line x1="92.2" y1="80" x2="92.2" y2="476" stroke="#12e4ee" stroke-width="2"/>
<line x1="91" y1="130.54" x2="549" y2="130.54" stroke="#0a0000" stroke-opacity="0.55" stroke-width="2.2"/>
<line x1="91" y1="164.86" x2="549" y2="164.86" stroke="#0a0000" stroke-opacity="0.55" stroke-width="2.2"/>
<text x="129.8" y="121.5" font-family="'Liberation Sans',sans-serif" font-size="13.8" fill="#3a3a3a" stroke="#3a3a3a" stroke-width="0.3">A3=784.9</text>
<text x="129.8" y="183.5" font-family="'Liberation Sans',sans-serif" font-size="13.8" fill="#3a3a3a" stroke="#3a3a3a" stroke-width="0.3">A1=706.8</text>
<g fill="none" stroke="#000" stroke-opacity="0.64" stroke-width="1.5"><path d="M109,104 C112.17,105.08 122,108.08 128,110.5 C134,112.92 139.75,115.28 145,118.5 C150.25,121.72 155.03,125.22 159.5,129.8 C163.97,134.38 168.13,140.13 171.8,146 C175.47,151.87 178.52,158.27 181.5,165 C184.48,171.73 186.9,179.02 189.7,186.4 C192.5,193.78 195.83,201.37 198.3,209.3 C200.77,217.23 202.4,223.88 204.5,234 C206.6,244.12 208.52,256.08 210.9,270 C213.28,283.92 216.43,302.73 218.8,317.5 C221.17,332.27 222.98,344.35 225.1,358.6 C227.22,372.85 229.48,386.1 231.5,403 C233.52,419.9 236.03,447.83 237.2,460 C238.37,472.17 238.28,473.33 238.5,476"/><path d="M185.5,104 C188.67,105.08 198.5,108.08 204.5,110.5 C210.5,112.92 216.25,115.28 221.5,118.5 C226.75,121.72 231.53,125.22 236,129.8 C240.47,134.38 244.63,140.13 248.3,146 C251.97,151.87 255.02,158.27 258,165 C260.98,171.73 263.4,179.02 266.2,186.4 C269,193.78 272.33,201.37 274.8,209.3 C277.27,217.23 278.9,223.88 281,234 C283.1,244.12 285.02,256.08 287.4,270 C289.78,283.92 292.93,302.73 295.3,317.5 C297.67,332.27 299.48,344.35 301.6,358.6 C303.72,372.85 305.98,386.1 308,403 C310.02,419.9 312.53,447.83 313.7,460 C314.87,472.17 314.78,473.33 315,476"/><path d="M262,104 C265.17,105.08 275,108.08 281,110.5 C287,112.92 292.75,115.28 298,118.5 C303.25,121.72 308.03,125.22 312.5,129.8 C316.97,134.38 321.13,140.13 324.8,146 C328.47,151.87 331.52,158.27 334.5,165 C337.48,171.73 339.9,179.02 342.7,186.4 C345.5,193.78 348.83,201.37 351.3,209.3 C353.77,217.23 355.4,223.88 357.5,234 C359.6,244.12 361.52,256.08 363.9,270 C366.28,283.92 369.43,302.73 371.8,317.5 C374.17,332.27 375.98,344.35 378.1,358.6 C380.22,372.85 382.48,386.1 384.5,403 C386.52,419.9 389.03,447.83 390.2,460 C391.37,472.17 391.28,473.33 391.5,476"/><path d="M338.5,104 C341.67,105.08 351.5,108.08 357.5,110.5 C363.5,112.92 369.25,115.28 374.5,118.5 C379.75,121.72 384.53,125.22 389,129.8 C393.47,134.38 397.63,140.13 401.3,146 C404.97,151.87 408.02,158.27 411,165 C413.98,171.73 416.4,179.02 419.2,186.4 C422,193.78 425.33,201.37 427.8,209.3 C430.27,217.23 431.9,223.88 434,234 C436.1,244.12 438.02,256.08 440.4,270 C442.78,283.92 445.93,302.73 448.3,317.5 C450.67,332.27 452.48,344.35 454.6,358.6 C456.72,372.85 458.98,386.1 461,403 C463.02,419.9 465.53,447.83 466.7,460 C467.87,472.17 467.78,473.33 468,476"/><path d="M415,104 C418.17,105.08 428,108.08 434,110.5 C440,112.92 445.75,115.28 451,118.5 C456.25,121.72 461.03,125.22 465.5,129.8 C469.97,134.38 474.13,140.13 477.8,146 C481.47,151.87 484.52,158.27 487.5,165 C490.48,171.73 492.9,179.02 495.7,186.4 C498.5,193.78 501.83,201.37 504.3,209.3 C506.77,217.23 508.4,223.88 510.5,234 C512.6,244.12 514.52,256.08 516.9,270 C519.28,283.92 522.43,302.73 524.8,317.5 C527.17,332.27 528.98,344.35 531.1,358.6 C533.22,372.85 535.48,386.1 537.5,403 C539.52,419.9 542.03,447.83 543.2,460 C544.37,472.17 544.28,473.33 544.5,476"/></g>
<line x1="92" y1="476" x2="549" y2="476" stroke="#6a6a6a" stroke-width="2.2"/>
<g stroke="#555" stroke-width="1.3"><line x1="92.2" y1="476" x2="92.2" y2="479"/><line x1="115.09" y1="476" x2="115.09" y2="479"/><line x1="128.49" y1="476" x2="128.49" y2="479"/><line x1="137.99" y1="476" x2="137.99" y2="479"/><line x1="145.36" y1="476" x2="145.36" y2="479"/><line x1="151.38" y1="476" x2="151.38" y2="479"/><line x1="156.47" y1="476" x2="156.47" y2="479"/><line x1="160.88" y1="476" x2="160.88" y2="479"/><line x1="164.77" y1="476" x2="164.77" y2="479"/><line x1="168.25" y1="476" x2="168.25" y2="479"/><line x1="191.14" y1="476" x2="191.14" y2="479"/><line x1="204.54" y1="476" x2="204.54" y2="479"/><line x1="214.04" y1="476" x2="214.04" y2="479"/><line x1="221.41" y1="476" x2="221.41" y2="479"/><line x1="227.43" y1="476" x2="227.43" y2="479"/><line x1="232.52" y1="476" x2="232.52" y2="479"/><line x1="236.93" y1="476" x2="236.93" y2="479"/><line x1="240.82" y1="476" x2="240.82" y2="479"/><line x1="244.3" y1="476" x2="244.3" y2="479"/><line x1="267.19" y1="476" x2="267.19" y2="479"/><line x1="280.59" y1="476" x2="280.59" y2="479"/><line x1="290.09" y1="476" x2="290.09" y2="479"/><line x1="297.46" y1="476" x2="297.46" y2="479"/><line x1="303.48" y1="476" x2="303.48" y2="479"/><line x1="308.57" y1="476" x2="308.57" y2="479"/><line x1="312.98" y1="476" x2="312.98" y2="479"/><line x1="316.87" y1="476" x2="316.87" y2="479"/><line x1="320.35" y1="476" x2="320.35" y2="479"/><line x1="343.24" y1="476" x2="343.24" y2="479"/><line x1="356.64" y1="476" x2="356.64" y2="479"/><line x1="366.14" y1="476" x2="366.14" y2="479"/><line x1="373.51" y1="476" x2="373.51" y2="479"/><line x1="379.53" y1="476" x2="379.53" y2="479"/><line x1="384.62" y1="476" x2="384.62" y2="479"/><line x1="389.03" y1="476" x2="389.03" y2="479"/><line x1="392.92" y1="476" x2="392.92" y2="479"/><line x1="396.4" y1="476" x2="396.4" y2="479"/><line x1="419.29" y1="476" x2="419.29" y2="479"/><line x1="432.69" y1="476" x2="432.69" y2="479"/><line x1="442.19" y1="476" x2="442.19" y2="479"/><line x1="449.56" y1="476" x2="449.56" y2="479"/><line x1="455.58" y1="476" x2="455.58" y2="479"/><line x1="460.67" y1="476" x2="460.67" y2="479"/><line x1="465.08" y1="476" x2="465.08" y2="479"/><line x1="468.97" y1="476" x2="468.97" y2="479"/><line x1="472.45" y1="476" x2="472.45" y2="479"/><line x1="495.34" y1="476" x2="495.34" y2="479"/><line x1="508.74" y1="476" x2="508.74" y2="479"/><line x1="518.24" y1="476" x2="518.24" y2="479"/><line x1="525.61" y1="476" x2="525.61" y2="479"/><line x1="531.63" y1="476" x2="531.63" y2="479"/><line x1="536.72" y1="476" x2="536.72" y2="479"/><line x1="541.13" y1="476" x2="541.13" y2="479"/><line x1="545.02" y1="476" x2="545.02" y2="479"/><line x1="548.5" y1="476" x2="548.5" y2="479"/></g>
<g stroke="#000" stroke-opacity="0.6" stroke-width="1.6"><line x1="89" y1="475.5" x2="95" y2="475.5"/><line x1="89" y1="453.52" x2="95" y2="453.52"/><line x1="89" y1="431.55" x2="95" y2="431.55"/><line x1="89" y1="409.57" x2="95" y2="409.57"/><line x1="89" y1="387.6" x2="95" y2="387.6"/><line x1="89" y1="365.62" x2="95" y2="365.62"/><line x1="89" y1="343.65" x2="95" y2="343.65"/><line x1="89" y1="321.68" x2="95" y2="321.68"/><line x1="89" y1="299.7" x2="95" y2="299.7"/><line x1="89" y1="277.73" x2="95" y2="277.73"/><line x1="89" y1="255.75" x2="95" y2="255.75"/><line x1="89" y1="233.78" x2="95" y2="233.78"/><line x1="89" y1="211.8" x2="95" y2="211.8"/><line x1="89" y1="189.82" x2="95" y2="189.82"/><line x1="89" y1="167.85" x2="95" y2="167.85"/><line x1="89" y1="145.88" x2="95" y2="145.88"/><line x1="89" y1="123.9" x2="95" y2="123.9"/><line x1="89" y1="101.93" x2="95" y2="101.93"/><line x1="89" y1="79.95" x2="95" y2="79.95"/></g>
<text x="86.3" y="481.4" font-family="'Liberation Sans',sans-serif" font-size="16.5" fill="#555" text-anchor="end">0</text>
<text x="86.3" y="437.45" font-family="'Liberation Sans',sans-serif" font-size="16.5" fill="#555" text-anchor="end">100</text>
<text x="86.3" y="393.5" font-family="'Liberation Sans',sans-serif" font-size="16.5" fill="#555" text-anchor="end">200</text>
<text x="86.3" y="349.55" font-family="'Liberation Sans',sans-serif" font-size="16.5" fill="#555" text-anchor="end">300</text>
<text x="86.3" y="305.6" font-family="'Liberation Sans',sans-serif" font-size="16.5" fill="#555" text-anchor="end">400</text>
<text x="86.3" y="261.65" font-family="'Liberation Sans',sans-serif" font-size="16.5" fill="#555" text-anchor="end">500</text>
<text x="86.3" y="217.7" font-family="'Liberation Sans',sans-serif" font-size="16.5" fill="#555" text-anchor="end">600</text>
<text x="86.3" y="173.75" font-family="'Liberation Sans',sans-serif" font-size="16.5" fill="#555" text-anchor="end">700</text>
<text x="86.3" y="129.8" font-family="'Liberation Sans',sans-serif" font-size="16.5" fill="#555" text-anchor="end">800</text>
<text x="86.3" y="85.85" font-family="'Liberation Sans',sans-serif" font-size="16.5" fill="#555" text-anchor="end">900</text>
<text x="92.2" y="498" font-family="'Liberation Sans',sans-serif" font-size="16.5" fill="#555" text-anchor="middle">0.1</text>
<text x="168.25" y="498" font-family="'Liberation Sans',sans-serif" font-size="16.5" fill="#555" text-anchor="middle">1</text>
<text x="244.3" y="498" font-family="'Liberation Sans',sans-serif" font-size="16.5" fill="#555" text-anchor="middle">10</text>
<text x="320.35" y="498" font-family="'Liberation Sans',sans-serif" font-size="16.5" fill="#555" text-anchor="middle">100</text>
<text x="396.4" y="498" font-family="'Liberation Sans',sans-serif" font-size="16.5" fill="#555" text-anchor="middle">1000</text>
<text x="472.45" y="498" font-family="'Liberation Sans',sans-serif" font-size="16.5" fill="#555" text-anchor="middle">10000</text>
<text x="548.5" y="498" font-family="'Liberation Sans',sans-serif" font-size="16.5" fill="#555" text-anchor="middle">100000</text>
<text x="320.5" y="524.3" font-family="'Liberation Sans',sans-serif" font-size="19.3" fill="#555" text-anchor="middle">Time (s)</text>
<text transform="translate(51.8 276.3) rotate(-90)" font-family="'Liberation Sans',sans-serif" font-size="20.6" fill="#555" text-anchor="middle">Temperature (C)</text>
<polyline points="284.3,261.4 289.4,258.35 294.5,255.29 299.6,252.24 304.97,249.68 310.35,247.17 315.79,244.79 321.55,243.3 327.3,241.8 336.3,239.5 354.4,236.5 362,234.5 367.5,233.4 373,232.3 378.5,231.2 380,228 384.88,221.9 389.86,215.88 395,210 402.6,202.6 422,193.6 428.27,192.35 434.53,191.09 440.8,189.84 447.06,188.59 453.31,187.25 459.54,185.83 465.77,184.42 472,183 492.5,178" fill="none" stroke="#1a8a55" stroke-width="1.3"/>
<circle cx="284.3" cy="261.4" r="4.3" fill="#138050" stroke="#ffffff" stroke-opacity="0.55" stroke-width="0.7"/><circle cx="289.4" cy="258.35" r="4.3" fill="#138050" stroke="#ffffff" stroke-opacity="0.55" stroke-width="0.7"/><circle cx="294.5" cy="255.29" r="4.3" fill="#138050" stroke="#ffffff" stroke-opacity="0.55" stroke-width="0.7"/><circle cx="299.6" cy="252.24" r="4.3" fill="#138050" stroke="#ffffff" stroke-opacity="0.55" stroke-width="0.7"/><circle cx="304.97" cy="249.68" r="4.3" fill="#138050" stroke="#ffffff" stroke-opacity="0.55" stroke-width="0.7"/><circle cx="310.35" cy="247.17" r="4.3" fill="#138050" stroke="#ffffff" stroke-opacity="0.55" stroke-width="0.7"/><circle cx="315.79" cy="244.79" r="4.3" fill="#138050" stroke="#ffffff" stroke-opacity="0.55" stroke-width="0.7"/><circle cx="321.55" cy="243.3" r="4.3" fill="#138050" stroke="#ffffff" stroke-opacity="0.55" stroke-width="0.7"/><circle cx="327.3" cy="241.8" r="4.3" fill="#138050" stroke="#ffffff" stroke-opacity="0.55" stroke-width="0.7"/><circle cx="336.3" cy="239.5" r="4.3" fill="#138050" stroke="#ffffff" stroke-opacity="0.55" stroke-width="0.7"/><circle cx="354.4" cy="236.5" r="4.3" fill="#138050" stroke="#ffffff" stroke-opacity="0.55" stroke-width="0.7"/><circle cx="362" cy="234.5" r="4.3" fill="#138050" stroke="#ffffff" stroke-opacity="0.55" stroke-width="0.7"/><circle cx="367.5" cy="233.4" r="4.3" fill="#138050" stroke="#ffffff" stroke-opacity="0.55" stroke-width="0.7"/><circle cx="373" cy="232.3" r="4.3" fill="#138050" stroke="#ffffff" stroke-opacity="0.55" stroke-width="0.7"/><circle cx="378.5" cy="231.2" r="4.3" fill="#138050" stroke="#ffffff" stroke-opacity="0.55" stroke-width="0.7"/><circle cx="380" cy="228" r="4.3" fill="#138050" stroke="#ffffff" stroke-opacity="0.55" stroke-width="0.7"/><circle cx="384.88" cy="221.9" r="4.3" fill="#138050" stroke="#ffffff" stroke-opacity="0.55" stroke-width="0.7"/><circle cx="389.86" cy="215.88" r="4.3" fill="#138050" stroke="#ffffff" stroke-opacity="0.55" stroke-width="0.7"/><circle cx="395" cy="210" r="4.3" fill="#138050" stroke="#ffffff" stroke-opacity="0.55" stroke-width="0.7"/><circle cx="402.6" cy="202.6" r="4.3" fill="#138050" stroke="#ffffff" stroke-opacity="0.55" stroke-width="0.7"/><circle cx="422" cy="193.6" r="4.3" fill="#138050" stroke="#ffffff" stroke-opacity="0.55" stroke-width="0.7"/><circle cx="428.27" cy="192.35" r="4.3" fill="#138050" stroke="#ffffff" stroke-opacity="0.55" stroke-width="0.7"/><circle cx="434.53" cy="191.09" r="4.3" fill="#138050" stroke="#ffffff" stroke-opacity="0.55" stroke-width="0.7"/><circle cx="440.8" cy="189.84" r="4.3" fill="#138050" stroke="#ffffff" stroke-opacity="0.55" stroke-width="0.7"/><circle cx="447.06" cy="188.59" r="4.3" fill="#138050" stroke="#ffffff" stroke-opacity="0.55" stroke-width="0.7"/><circle cx="453.31" cy="187.25" r="4.3" fill="#138050" stroke="#ffffff" stroke-opacity="0.55" stroke-width="0.7"/><circle cx="459.54" cy="185.83" r="4.3" fill="#138050" stroke="#ffffff" stroke-opacity="0.55" stroke-width="0.7"/><circle cx="465.77" cy="184.42" r="4.3" fill="#138050" stroke="#ffffff" stroke-opacity="0.55" stroke-width="0.7"/><circle cx="472" cy="183" r="4.3" fill="#138050" stroke="#ffffff" stroke-opacity="0.55" stroke-width="0.7"/><circle cx="492.5" cy="178" r="4.3" fill="#138050" stroke="#ffffff" stroke-opacity="0.55" stroke-width="0.7"/>
<polyline points="331.8,220.7 346.8,207 352.48,204.5 358.16,202.01 363.85,199.51 369.72,197.53 375.65,195.69 381.57,193.84 387.5,192 399.6,186.8 414.6,181.5 420.95,180.37 427.3,179.25 433.65,178.12 440,177 446.4,176.2 452.8,175.4 459.2,174.6 465.6,173.8 472,173 490.8,171" fill="none" stroke="#22ee22" stroke-width="1.3"/>
<rect x="328.8" y="217.7" width="6" height="6" fill="#11ee11" stroke="#ffffff" stroke-opacity="0.55" stroke-width="0.7"/><rect x="342.4" y="202.6" width="8.8" height="8.8" fill="#11ee11" stroke="#ffffff" stroke-opacity="0.55" stroke-width="0.7"/><rect x="348.08" y="200.1" width="8.8" height="8.8" fill="#11ee11" stroke="#ffffff" stroke-opacity="0.55" stroke-width="0.7"/><rect x="353.76" y="197.61" width="8.8" height="8.8" fill="#11ee11" stroke="#ffffff" stroke-opacity="0.55" stroke-width="0.7"/><rect x="359.45" y="195.11" width="8.8" height="8.8" fill="#11ee11" stroke="#ffffff" stroke-opacity="0.55" stroke-width="0.7"/><rect x="365.32" y="193.13" width="8.8" height="8.8" fill="#11ee11" stroke="#ffffff" stroke-opacity="0.55" stroke-width="0.7"/><rect x="371.25" y="191.29" width="8.8" height="8.8" fill="#11ee11" stroke="#ffffff" stroke-opacity="0.55" stroke-width="0.7"/><rect x="377.17" y="189.44" width="8.8" height="8.8" fill="#11ee11" stroke="#ffffff" stroke-opacity="0.55" stroke-width="0.7"/><rect x="383.1" y="187.6" width="8.8" height="8.8" fill="#11ee11" stroke="#ffffff" stroke-opacity="0.55" stroke-width="0.7"/><rect x="395.2" y="182.4" width="8.8" height="8.8" fill="#11ee11" stroke="#ffffff" stroke-opacity="0.55" stroke-width="0.7"/><rect x="410.2" y="177.1" width="8.8" height="8.8" fill="#11ee11" stroke="#ffffff" stroke-opacity="0.55" stroke-width="0.7"/><rect x="416.55" y="175.97" width="8.8" height="8.8" fill="#11ee11" stroke="#ffffff" stroke-opacity="0.55" stroke-width="0.7"/><rect x="422.9" y="174.85" width="8.8" height="8.8" fill="#11ee11" stroke="#ffffff" stroke-opacity="0.55" stroke-width="0.7"/><rect x="429.25" y="173.72" width="8.8" height="8.8" fill="#11ee11" stroke="#ffffff" stroke-opacity="0.55" stroke-width="0.7"/><rect x="435.6" y="172.6" width="8.8" height="8.8" fill="#11ee11" stroke="#ffffff" stroke-opacity="0.55" stroke-width="0.7"/><rect x="442" y="171.8" width="8.8" height="8.8" fill="#11ee11" stroke="#ffffff" stroke-opacity="0.55" stroke-width="0.7"/><rect x="448.4" y="171" width="8.8" height="8.8" fill="#11ee11" stroke="#ffffff" stroke-opacity="0.55" stroke-width="0.7"/><rect x="454.8" y="170.2" width="8.8" height="8.8" fill="#11ee11" stroke="#ffffff" stroke-opacity="0.55" stroke-width="0.7"/><rect x="461.2" y="169.4" width="8.8" height="8.8" fill="#11ee11" stroke="#ffffff" stroke-opacity="0.55" stroke-width="0.7"/><rect x="467.6" y="168.6" width="8.8" height="8.8" fill="#11ee11" stroke="#ffffff" stroke-opacity="0.55" stroke-width="0.7"/><rect x="486.4" y="166.6" width="8.8" height="8.8" fill="#11ee11" stroke="#ffffff" stroke-opacity="0.55" stroke-width="0.7"/>
<polyline points="208,255.4 214,251 218.67,248.66 223.35,246.33 228.02,243.99 232.87,242.08 237.85,240.49 242.82,238.89 247.8,237.3 258.7,232.5 279,229.5 283.86,229.38 288.71,229.27 293.57,229.15 298.43,229.04 303.28,228.88 308.14,228.71 312.99,228.54 317.85,228.37 322.7,228.2 333.3,228.2 354.4,228.2 360,228 365.5,227.75 371,227.5" fill="none" stroke="#2222ff" stroke-width="1.3"/>
<rect x="203.6" y="251" width="8.8" height="8.8" fill="#0a0aff" stroke="#ffffff" stroke-opacity="0.55" stroke-width="0.7"/><rect x="209.6" y="246.6" width="8.8" height="8.8" fill="#0a0aff" stroke="#ffffff" stroke-opacity="0.55" stroke-width="0.7"/><rect x="214.27" y="244.26" width="8.8" height="8.8" fill="#0a0aff" stroke="#ffffff" stroke-opacity="0.55" stroke-width="0.7"/><rect x="218.95" y="241.93" width="8.8" height="8.8" fill="#0a0aff" stroke="#ffffff" stroke-opacity="0.55" stroke-width="0.7"/><rect x="223.62" y="239.59" width="8.8" height="8.8" fill="#0a0aff" stroke="#ffffff" stroke-opacity="0.55" stroke-width="0.7"/><rect x="228.47" y="237.68" width="8.8" height="8.8" fill="#0a0aff" stroke="#ffffff" stroke-opacity="0.55" stroke-width="0.7"/><rect x="233.45" y="236.09" width="8.8" height="8.8" fill="#0a0aff" stroke="#ffffff" stroke-opacity="0.55" stroke-width="0.7"/><rect x="238.42" y="234.49" width="8.8" height="8.8" fill="#0a0aff" stroke="#ffffff" stroke-opacity="0.55" stroke-width="0.7"/><rect x="243.4" y="232.9" width="8.8" height="8.8" fill="#0a0aff" stroke="#ffffff" stroke-opacity="0.55" stroke-width="0.7"/><rect x="254.3" y="228.1" width="8.8" height="8.8" fill="#0a0aff" stroke="#ffffff" stroke-opacity="0.55" stroke-width="0.7"/><rect x="274.6" y="225.1" width="8.8" height="8.8" fill="#0a0aff" stroke="#ffffff" stroke-opacity="0.55" stroke-width="0.7"/><rect x="279.46" y="224.98" width="8.8" height="8.8" fill="#0a0aff" stroke="#ffffff" stroke-opacity="0.55" stroke-width="0.7"/><rect x="284.31" y="224.87" width="8.8" height="8.8" fill="#0a0aff" stroke="#ffffff" stroke-opacity="0.55" stroke-width="0.7"/><rect x="289.17" y="224.75" width="8.8" height="8.8" fill="#0a0aff" stroke="#ffffff" stroke-opacity="0.55" stroke-width="0.7"/><rect x="294.03" y="224.64" width="8.8" height="8.8" fill="#0a0aff" stroke="#ffffff" stroke-opacity="0.55" stroke-width="0.7"/><rect x="298.88" y="224.48" width="8.8" height="8.8" fill="#0a0aff" stroke="#ffffff" stroke-opacity="0.55" stroke-width="0.7"/><rect x="303.74" y="224.31" width="8.8" height="8.8" fill="#0a0aff" stroke="#ffffff" stroke-opacity="0.55" stroke-width="0.7"/><rect x="308.59" y="224.14" width="8.8" height="8.8" fill="#0a0aff" stroke="#ffffff" stroke-opacity="0.55" stroke-width="0.7"/><rect x="313.45" y="223.97" width="8.8" height="8.8" fill="#0a0aff" stroke="#ffffff" stroke-opacity="0.55" stroke-width="0.7"/><rect x="318.3" y="223.8" width="8.8" height="8.8" fill="#0a0aff" stroke="#ffffff" stroke-opacity="0.55" stroke-width="0.7"/><rect x="328.9" y="223.8" width="8.8" height="8.8" fill="#0a0aff" stroke="#ffffff" stroke-opacity="0.55" stroke-width="0.7"/><rect x="350" y="223.8" width="8.8" height="8.8" fill="#0a0aff" stroke="#ffffff" stroke-opacity="0.55" stroke-width="0.7"/><rect x="355.6" y="223.6" width="8.8" height="8.8" fill="#0a0aff" stroke="#ffffff" stroke-opacity="0.55" stroke-width="0.7"/><rect x="361.1" y="223.35" width="8.8" height="8.8" fill="#0a0aff" stroke="#ffffff" stroke-opacity="0.55" stroke-width="0.7"/><rect x="366.6" y="223.1" width="8.8" height="8.8" fill="#0a0aff" stroke="#ffffff" stroke-opacity="0.55" stroke-width="0.7"/>
<polyline points="223.7,259.6 227.3,229.5 231.6,216.9 237.6,205.4 247,192.3 264.1,177.5 268.6,175.45 273.1,173.41 277.6,171.36 282.1,169.32 286.62,167.32 291.18,165.41 295.74,163.51 300.3,161.6 308.4,159.5 327.3,153.7 332.82,152.55 338.35,151.39 343.87,150.24 349.4,149.12 354.93,148.01 360.47,146.91 366,145.8 376,145.8 396,143 401.71,142.25 407.42,141.5 413.13,140.75 418.84,140.04 424.56,139.36 430.28,138.68 436,138 446.3,136.5 468.6,135.2" fill="none" stroke="#111" stroke-width="1.2"/>
<circle cx="223.7" cy="259.6" r="4.3" fill="#050505" stroke="#ffffff" stroke-opacity="0.55" stroke-width="0.7"/><circle cx="227.3" cy="229.5" r="4.3" fill="#050505" stroke="#ffffff" stroke-opacity="0.55" stroke-width="0.7"/><circle cx="231.6" cy="216.9" r="4.3" fill="#050505" stroke="#ffffff" stroke-opacity="0.55" stroke-width="0.7"/><circle cx="237.6" cy="205.4" r="4.3" fill="#050505" stroke="#ffffff" stroke-opacity="0.55" stroke-width="0.7"/><circle cx="247" cy="192.3" r="4.3" fill="#050505" stroke="#ffffff" stroke-opacity="0.55" stroke-width="0.7"/><circle cx="264.1" cy="177.5" r="4.3" fill="#050505" stroke="#ffffff" stroke-opacity="0.55" stroke-width="0.7"/><circle cx="268.6" cy="175.45" r="4.3" fill="#050505" stroke="#ffffff" stroke-opacity="0.55" stroke-width="0.7"/><circle cx="273.1" cy="173.41" r="4.3" fill="#050505" stroke="#ffffff" stroke-opacity="0.55" stroke-width="0.7"/><circle cx="277.6" cy="171.36" r="4.3" fill="#050505" stroke="#ffffff" stroke-opacity="0.55" stroke-width="0.7"/><circle cx="282.1" cy="169.32" r="4.3" fill="#050505" stroke="#ffffff" stroke-opacity="0.55" stroke-width="0.7"/><circle cx="286.62" cy="167.32" r="4.3" fill="#050505" stroke="#ffffff" stroke-opacity="0.55" stroke-width="0.7"/><circle cx="291.18" cy="165.41" r="4.3" fill="#050505" stroke="#ffffff" stroke-opacity="0.55" stroke-width="0.7"/><circle cx="295.74" cy="163.51" r="4.3" fill="#050505" stroke="#ffffff" stroke-opacity="0.55" stroke-width="0.7"/><circle cx="300.3" cy="161.6" r="4.3" fill="#050505" stroke="#ffffff" stroke-opacity="0.55" stroke-width="0.7"/><circle cx="308.4" cy="159.5" r="4.3" fill="#050505" stroke="#ffffff" stroke-opacity="0.55" stroke-width="0.7"/><circle cx="327.3" cy="153.7" r="4.3" fill="#050505" stroke="#ffffff" stroke-opacity="0.55" stroke-width="0.7"/><circle cx="332.82" cy="152.55" r="4.3" fill="#050505" stroke="#ffffff" stroke-opacity="0.55" stroke-width="0.7"/><circle cx="338.35" cy="151.39" r="4.3" fill="#050505" stroke="#ffffff" stroke-opacity="0.55" stroke-width="0.7"/><circle cx="343.87" cy="150.24" r="4.3" fill="#050505" stroke="#ffffff" stroke-opacity="0.55" stroke-width="0.7"/><circle cx="349.4" cy="149.12" r="4.3" fill="#050505" stroke="#ffffff" stroke-opacity="0.55" stroke-width="0.7"/><circle cx="354.93" cy="148.01" r="4.3" fill="#050505" stroke="#ffffff" stroke-opacity="0.55" stroke-width="0.7"/><circle cx="360.47" cy="146.91" r="4.3" fill="#050505" stroke="#ffffff" stroke-opacity="0.55" stroke-width="0.7"/><circle cx="366" cy="145.8" r="4.3" fill="#050505" stroke="#ffffff" stroke-opacity="0.55" stroke-width="0.7"/><circle cx="376" cy="145.8" r="4.3" fill="#050505" stroke="#ffffff" stroke-opacity="0.55" stroke-width="0.7"/><circle cx="396" cy="143" r="4.3" fill="#050505" stroke="#ffffff" stroke-opacity="0.55" stroke-width="0.7"/><circle cx="401.71" cy="142.25" r="4.3" fill="#050505" stroke="#ffffff" stroke-opacity="0.55" stroke-width="0.7"/><circle cx="407.42" cy="141.5" r="4.3" fill="#050505" stroke="#ffffff" stroke-opacity="0.55" stroke-width="0.7"/><circle cx="413.13" cy="140.75" r="4.3" fill="#050505" stroke="#ffffff" stroke-opacity="0.55" stroke-width="0.7"/><circle cx="418.84" cy="140.04" r="4.3" fill="#050505" stroke="#ffffff" stroke-opacity="0.55" stroke-width="0.7"/><circle cx="424.56" cy="139.36" r="4.3" fill="#050505" stroke="#ffffff" stroke-opacity="0.55" stroke-width="0.7"/><circle cx="430.28" cy="138.68" r="4.3" fill="#050505" stroke="#ffffff" stroke-opacity="0.55" stroke-width="0.7"/><circle cx="436" cy="138" r="4.3" fill="#050505" stroke="#ffffff" stroke-opacity="0.55" stroke-width="0.7"/><circle cx="446.3" cy="136.5" r="4.3" fill="#050505" stroke="#ffffff" stroke-opacity="0.55" stroke-width="0.7"/><circle cx="468.6" cy="135.2" r="5" fill="#050505"/>
<line x1="219" y1="312" x2="277" y2="316" stroke="#cc44ee" stroke-width="1.4"/>
<circle cx="219" cy="312" r="1.9" fill="#cc44ee"/>
<circle cx="230.6" cy="312.8" r="1.9" fill="#cc44ee"/>
<circle cx="242.2" cy="313.6" r="1.9" fill="#cc44ee"/>
<circle cx="253.8" cy="314.4" r="1.9" fill="#cc44ee"/>
<circle cx="265.4" cy="315.2" r="1.9" fill="#cc44ee"/>
<circle cx="277" cy="316" r="1.9" fill="#cc44ee"/>
<line x1="220" y1="328.5" x2="278" y2="332" stroke="#ff2a90" stroke-width="1.4"/>
<circle cx="220" cy="328.5" r="1.9" fill="#ff2a90"/>
<circle cx="231.6" cy="329.2" r="1.9" fill="#ff2a90"/>
<circle cx="243.2" cy="329.9" r="1.9" fill="#ff2a90"/>
<circle cx="254.8" cy="330.6" r="1.9" fill="#ff2a90"/>
<circle cx="266.4" cy="331.3" r="1.9" fill="#ff2a90"/>
<circle cx="278" cy="332" r="1.9" fill="#ff2a90"/>
<line x1="226" y1="362.5" x2="282" y2="367" stroke="#e87070" stroke-width="1.4"/>
<circle cx="226" cy="362.5" r="1.9" fill="#e87070"/>
<circle cx="237.2" cy="363.4" r="1.9" fill="#e87070"/>
<circle cx="248.4" cy="364.3" r="1.9" fill="#e87070"/>
<circle cx="259.6" cy="365.2" r="1.9" fill="#e87070"/>
<circle cx="270.8" cy="366.1" r="1.9" fill="#e87070"/>
<circle cx="282" cy="367" r="1.9" fill="#e87070"/>
<text x="119.5" y="459.3" font-family="'Liberation Sans',sans-serif" font-size="16" fill="#222" font-weight="bold">Hardness</text>
<text x="226" y="459.3" font-family="'Liberation Sans',sans-serif" font-size="16" fill="#222" font-weight="bold">53</text>
<text x="302" y="459.3" font-family="'Liberation Sans',sans-serif" font-size="16" fill="#222" font-weight="bold">31</text>
<text x="377.5" y="459.3" font-family="'Liberation Sans',sans-serif" font-size="16" fill="#222" font-weight="bold">20</text>
<text x="458.5" y="459.3" font-family="'Liberation Sans',sans-serif" font-size="16" fill="#222" font-weight="bold">5</text>
<text x="538.5" y="459.3" font-family="'Liberation Sans',sans-serif" font-size="16" fill="#222" font-weight="bold">1</text>
<circle cx="612" cy="224.7" r="8.5" fill="#000"/>
<text x="623.5" y="233" font-family="'Liberation Sans',sans-serif" font-size="16.5" fill="#444" stroke="#444" stroke-width="0.3">Ferrite(1%)</text>
<rect x="603" y="240.3" width="18.2" height="19" rx="1" fill="#11ee11"/>
<text x="623.5" y="258.1" font-family="'Liberation Sans',sans-serif" font-size="16.5" fill="#444" stroke="#444" stroke-width="0.3">Pearlite(1%)</text>
<rect x="603" y="265.4" width="18.2" height="19" rx="1" fill="#0a0aff"/>
<text x="623.5" y="283.2" font-family="'Liberation Sans',sans-serif" font-size="16.5" fill="#444" stroke="#444" stroke-width="0.3">Bainite(1%)</text>
<circle cx="612" cy="300" r="8.5" fill="#138050"/>
<text x="623.5" y="308.3" font-family="'Liberation Sans',sans-serif" font-size="16.5" fill="#444" stroke="#444" stroke-width="0.3">Austenite(1%)</text>
<g stroke="#d070ff" stroke-width="1.5"><line x1="620.5" y1="325.1" x2="603.5" y2="325.1"/><line x1="618.01" y1="331.11" x2="605.99" y2="319.09"/><line x1="612" y1="333.6" x2="612" y2="316.6"/><line x1="605.99" y1="331.11" x2="618.01" y2="319.09"/></g><circle cx="612" cy="325.1" r="2.6" fill="#a020e0"/>
<text x="623.5" y="333.4" font-family="'Liberation Sans',sans-serif" font-size="16.5" fill="#444" stroke="#444" stroke-width="0.3">Martensite start</text>
<circle cx="612" cy="350.2" r="8.5" fill="#ff0a8c"/>
<text x="623.5" y="358.5" font-family="'Liberation Sans',sans-serif" font-size="16.5" fill="#444" stroke="#444" stroke-width="0.3">Martensite 50%</text>
<path d="M612,366.6 L620.7,375.3 L612,384 L603.3,375.3 Z" fill="#e06060"/>
<text x="623.5" y="383.6" font-family="'Liberation Sans',sans-serif" font-size="16.5" fill="#444" stroke="#444" stroke-width="0.3">Martensite 90%</text>
<text x="155.5" y="569" font-family="'Liberation Sans',sans-serif" font-size="18.5" fill="#111" font-weight="bold" textLength="288.5" lengthAdjust="spacingAndGlyphs">Austenitisation temperature (C) : 860.0</text>
<text x="155.5" y="591" font-family="'Liberation Sans',sans-serif" font-size="18.5" fill="#111" font-weight="bold" textLength="155.5" lengthAdjust="spacingAndGlyphs">Grain size : 9.0 ASTM</text>
<text x="300.8" y="649" font-family="'Liberation Serif',serif" font-size="38" fill="#1a1a1a" text-anchor="middle" letter-spacing="1.6"><tspan fill="#555">(</tspan>a<tspan fill="#555">)</tspan></text>
<text x="1056.3 1066.8 1076.8 1100.5 1116.3 1130 1139.6" y="61.5" font-family="'Liberation Serif',serif" font-size="21.5" font-weight="bold" fill="#151515">20MnCr5</text>
<rect x="836.7" y="61.7" width="533.3" height="428.5" fill="none" stroke="#222" stroke-width="2.1"/>
<g stroke="#111" stroke-width="1.8"><line x1="829.2" y1="490.2" x2="836.7" y2="490.2"/><line x1="833.2" y1="463.42" x2="836.7" y2="463.42"/><line x1="829.2" y1="436.64" x2="836.7" y2="436.64"/><line x1="833.2" y1="409.86" x2="836.7" y2="409.86"/><line x1="829.2" y1="383.07" x2="836.7" y2="383.07"/><line x1="833.2" y1="356.29" x2="836.7" y2="356.29"/><line x1="829.2" y1="329.51" x2="836.7" y2="329.51"/><line x1="833.2" y1="302.73" x2="836.7" y2="302.73"/><line x1="829.2" y1="275.95" x2="836.7" y2="275.95"/><line x1="833.2" y1="249.17" x2="836.7" y2="249.17"/><line x1="829.2" y1="222.39" x2="836.7" y2="222.39"/><line x1="833.2" y1="195.61" x2="836.7" y2="195.61"/><line x1="829.2" y1="168.82" x2="836.7" y2="168.82"/><line x1="833.2" y1="142.04" x2="836.7" y2="142.04"/><line x1="829.2" y1="115.26" x2="836.7" y2="115.26"/><line x1="833.2" y1="88.48" x2="836.7" y2="88.48"/><line x1="829.2" y1="61.7" x2="836.7" y2="61.7"/><line x1="836.7" y1="490.2" x2="836.7" y2="498.2"/><line x1="850.03" y1="490.2" x2="850.03" y2="494.2"/><line x1="863.37" y1="490.2" x2="863.37" y2="498.2"/><line x1="876.7" y1="490.2" x2="876.7" y2="494.2"/><line x1="890.03" y1="490.2" x2="890.03" y2="498.2"/><line x1="903.36" y1="490.2" x2="903.36" y2="494.2"/><line x1="916.7" y1="490.2" x2="916.7" y2="498.2"/><line x1="930.03" y1="490.2" x2="930.03" y2="494.2"/><line x1="943.36" y1="490.2" x2="943.36" y2="498.2"/><line x1="956.69" y1="490.2" x2="956.69" y2="494.2"/><line x1="970.03" y1="490.2" x2="970.03" y2="498.2"/><line x1="983.36" y1="490.2" x2="983.36" y2="494.2"/><line x1="996.69" y1="490.2" x2="996.69" y2="498.2"/><line x1="1010.02" y1="490.2" x2="1010.02" y2="494.2"/><line x1="1023.36" y1="490.2" x2="1023.36" y2="498.2"/><line x1="1036.69" y1="490.2" x2="1036.69" y2="494.2"/><line x1="1050.02" y1="490.2" x2="1050.02" y2="498.2"/><line x1="1063.35" y1="490.2" x2="1063.35" y2="494.2"/><line x1="1076.68" y1="490.2" x2="1076.68" y2="498.2"/><line x1="1090.02" y1="490.2" x2="1090.02" y2="494.2"/><line x1="1103.35" y1="490.2" x2="1103.35" y2="498.2"/><line x1="1116.68" y1="490.2" x2="1116.68" y2="494.2"/><line x1="1130.01" y1="490.2" x2="1130.01" y2="498.2"/><line x1="1143.35" y1="490.2" x2="1143.35" y2="494.2"/><line x1="1156.68" y1="490.2" x2="1156.68" y2="498.2"/><line x1="1170.01" y1="490.2" x2="1170.01" y2="494.2"/><line x1="1183.35" y1="490.2" x2="1183.35" y2="498.2"/><line x1="1196.68" y1="490.2" x2="1196.68" y2="494.2"/><line x1="1210.01" y1="490.2" x2="1210.01" y2="498.2"/><line x1="1223.34" y1="490.2" x2="1223.34" y2="494.2"/><line x1="1236.68" y1="490.2" x2="1236.68" y2="498.2"/><line x1="1250.01" y1="490.2" x2="1250.01" y2="494.2"/><line x1="1263.34" y1="490.2" x2="1263.34" y2="498.2"/><line x1="1276.67" y1="490.2" x2="1276.67" y2="494.2"/><line x1="1290.01" y1="490.2" x2="1290.01" y2="498.2"/><line x1="1303.34" y1="490.2" x2="1303.34" y2="494.2"/><line x1="1316.67" y1="490.2" x2="1316.67" y2="498.2"/><line x1="1330" y1="490.2" x2="1330" y2="494.2"/><line x1="1343.34" y1="490.2" x2="1343.34" y2="498.2"/><line x1="1356.67" y1="490.2" x2="1356.67" y2="494.2"/><line x1="1370" y1="490.2" x2="1370" y2="498.2"/></g>
<text x="822" y="496.2" font-family="'Liberation Serif',serif" font-size="19" fill="#333" text-anchor="end" letter-spacing="-1.1">100</text>
<text x="822" y="442.64" font-family="'Liberation Serif',serif" font-size="19" fill="#333" text-anchor="end" letter-spacing="-1.1">200</text>
<text x="822" y="389.07" font-family="'Liberation Serif',serif" font-size="19" fill="#333" text-anchor="end" letter-spacing="-1.1">300</text>
<text x="822" y="335.51" font-family="'Liberation Serif',serif" font-size="19" fill="#333" text-anchor="end" letter-spacing="-1.1">400</text>
<text x="822" y="281.95" font-family="'Liberation Serif',serif" font-size="19" fill="#333" text-anchor="end" letter-spacing="-1.1">500</text>
<text x="822" y="228.39" font-family="'Liberation Serif',serif" font-size="19" fill="#333" text-anchor="end" letter-spacing="-1.1">600</text>
<text x="822" y="174.82" font-family="'Liberation Serif',serif" font-size="19" fill="#333" text-anchor="end" letter-spacing="-1.1">700</text>
<text x="822" y="121.26" font-family="'Liberation Serif',serif" font-size="19" fill="#333" text-anchor="end" letter-spacing="-1.1">800</text>
<text x="822" y="67.7" font-family="'Liberation Serif',serif" font-size="19" fill="#333" text-anchor="end" letter-spacing="-1.1">900</text>
<text x="836.7" y="519" font-family="'Liberation Serif',serif" font-size="18" fill="#333" text-anchor="middle" letter-spacing="-0.9">0</text>
<text x="863.37" y="519" font-family="'Liberation Serif',serif" font-size="18" fill="#333" text-anchor="middle" letter-spacing="-0.9">5</text>
<text x="890.03" y="519" font-family="'Liberation Serif',serif" font-size="18" fill="#333" text-anchor="middle" letter-spacing="-0.9">10</text>
<text x="916.7" y="519" font-family="'Liberation Serif',serif" font-size="18" fill="#333" text-anchor="middle" letter-spacing="-0.9">15</text>
<text x="943.36" y="519" font-family="'Liberation Serif',serif" font-size="18" fill="#333" text-anchor="middle" letter-spacing="-0.9">20</text>
<text x="970.03" y="519" font-family="'Liberation Serif',serif" font-size="18" fill="#333" text-anchor="middle" letter-spacing="-0.9">25</text>
<text x="996.69" y="519" font-family="'Liberation Serif',serif" font-size="18" fill="#333" text-anchor="middle" letter-spacing="-0.9">30</text>
<text x="1023.36" y="519" font-family="'Liberation Serif',serif" font-size="18" fill="#333" text-anchor="middle" letter-spacing="-0.9">35</text>
<text x="1050.02" y="519" font-family="'Liberation Serif',serif" font-size="18" fill="#333" text-anchor="middle" letter-spacing="-0.9">40</text>
<text x="1076.68" y="519" font-family="'Liberation Serif',serif" font-size="18" fill="#333" text-anchor="middle" letter-spacing="-0.9">45</text>
<text x="1103.35" y="519" font-family="'Liberation Serif',serif" font-size="18" fill="#333" text-anchor="middle" letter-spacing="-0.9">50</text>
<text x="1130.01" y="519" font-family="'Liberation Serif',serif" font-size="18" fill="#333" text-anchor="middle" letter-spacing="-0.9">55</text>
<text x="1156.68" y="519" font-family="'Liberation Serif',serif" font-size="18" fill="#333" text-anchor="middle" letter-spacing="-0.9">60</text>
<text x="1183.35" y="519" font-family="'Liberation Serif',serif" font-size="18" fill="#333" text-anchor="middle" letter-spacing="-0.9">65</text>
<text x="1210.01" y="519" font-family="'Liberation Serif',serif" font-size="18" fill="#333" text-anchor="middle" letter-spacing="-0.9">70</text>
<text x="1236.68" y="519" font-family="'Liberation Serif',serif" font-size="18" fill="#333" text-anchor="middle" letter-spacing="-0.9">75</text>
<text x="1263.34" y="519" font-family="'Liberation Serif',serif" font-size="18" fill="#333" text-anchor="middle" letter-spacing="-0.9">80</text>
<text x="1290.01" y="519" font-family="'Liberation Serif',serif" font-size="18" fill="#333" text-anchor="middle" letter-spacing="-0.9">85</text>
<text x="1316.67" y="519" font-family="'Liberation Serif',serif" font-size="18" fill="#333" text-anchor="middle" letter-spacing="-0.9">90</text>
<text x="1343.34" y="519" font-family="'Liberation Serif',serif" font-size="18" fill="#333" text-anchor="middle" letter-spacing="-0.9">95</text>
<text x="1370" y="519" font-family="'Liberation Serif',serif" font-size="18" fill="#333" text-anchor="middle" letter-spacing="-0.9">100</text>
<text x="1062" y="555.6" font-family="'Liberation Serif',serif" font-size="21" font-weight="bold" fill="#111">Tim e<tspan font-weight="normal" font-family="'Liberation Sans',sans-serif" font-size="20">(S)</tspan></text>
<text transform="translate(768.6 264.8) rotate(-90)" font-family="'Liberation Serif',serif" font-size="23.8" font-weight="bold" fill="#1a1a1a" text-anchor="middle">Tempurature(<tspan dy="5.5" fill="#555">*</tspan><tspan dy="-5.5"> )</tspan></text>
<rect x="1011" y="93.2" width="345.5" height="69" fill="#fff" stroke="#222" stroke-width="1.8"/>
<line x1="1011" y1="111.3" x2="1059.5" y2="111.3" stroke="#000" stroke-width="3"/>
<line x1="1011" y1="145.2" x2="1059.5" y2="145.2" stroke="#ff0000" stroke-width="3" stroke-dasharray="7 5.5 9 5 8.5 4.5 8.5 5"/>
<text x="1069" y="120.3" font-family="'Liberation Serif',serif" font-size="22" fill="#1a1a2a" letter-spacing="1.1" stroke="#1a1a2a" stroke-width="0.5">Cooling curves of martensite</text>
<text x="1069" y="153.8" font-family="'Liberation Serif',serif" font-size="22" fill="#1a1a2a" letter-spacing="1.1" stroke="#1a1a2a" stroke-width="0.5">Cooling curves of bainite</text>
<path d="M839.5,95.9 C839.5,98.7 839.15,108.48 839.5,112.7 C839.85,116.92 840.8,115.92 841.6,121.2 C842.4,126.48 843.42,137.72 844.3,144.4 C845.18,151.08 845.92,155.37 846.9,161.3 C847.88,167.23 849.28,173.12 850.2,180 C851.12,186.88 851.27,195.08 852.4,202.6 C853.53,210.12 855.3,217.58 857,225.1 C858.7,232.62 860.55,240.17 862.6,247.7 C864.65,255.23 866.82,263.08 869.3,270.3 C871.78,277.52 874.97,285.22 877.5,291 C880.03,296.78 881.57,299.98 884.5,305 C887.43,310.02 890.83,314.9 895.1,321.1 C899.37,327.3 905.08,336.18 910.1,342.2 C915.12,348.22 920.18,352.43 925.2,357.2 C930.22,361.97 935.18,366.78 940.2,370.8 C945.22,374.82 949.27,377.28 955.3,381.3 C961.33,385.32 969.62,390.87 976.4,394.9 C983.18,398.93 989.97,402.53 996,405.5 C1002.03,408.47 1005.32,409.73 1012.6,412.7 C1019.88,415.67 1030.65,420.03 1039.7,423.3 C1048.75,426.57 1058.85,429.78 1066.9,432.3 C1074.95,434.82 1084.48,437.38 1088,438.4" fill="none" stroke="#000" stroke-width="3"/>
<path d="M837.4,75.8 C837.4,78.08 837.3,83.35 837.4,89.5 C837.5,95.65 837.65,107.07 838,112.7 C838.35,118.33 838.72,119.42 839.5,123.3 C840.28,127.18 841.82,131.43 842.7,136 C843.58,140.57 843.92,145.78 844.8,150.7 C845.68,155.62 846.73,159.87 848,165.5 C849.27,171.13 850.73,178.32 852.4,184.5 C854.07,190.68 855.93,195.83 858,202.6 C860.07,209.37 862.15,218.33 864.8,225.1 C867.45,231.87 870.52,237.17 873.9,243.2 C877.28,249.23 881.35,255.65 885.1,261.3 C888.85,266.95 891.88,271.83 896.4,277.1 C900.92,282.37 907.3,288.67 912.2,292.9 C917.1,297.13 921.13,299.18 925.8,302.5 C930.47,305.82 934.03,308.82 940.2,312.8 C946.37,316.78 955.25,321.8 962.8,326.4 C970.35,331 976.7,335.8 985.5,340.4 C994.3,345 1005.55,349.73 1015.6,354 C1025.65,358.27 1035.75,362.23 1045.8,366 C1055.85,369.77 1068.53,374.07 1075.9,376.6 C1083.27,379.13 1081.68,378.73 1090,381.2 C1098.32,383.67 1114.28,388.2 1125.8,391.4 C1137.32,394.6 1148,397.83 1159.1,400.4 C1170.2,402.97 1180.45,404.25 1192.4,406.8 C1204.35,409.35 1218,413.15 1230.8,415.7 C1243.6,418.25 1257.27,419.97 1269.2,422.1 C1281.13,424.23 1290.47,426.27 1302.4,428.5 C1314.33,430.73 1334.4,434.33 1340.8,435.5" fill="none" stroke="#ff0000" stroke-width="3.2" stroke-dasharray="6.5 4"/>
<text x="1088.3" y="648.8" font-family="'Liberation Serif',serif" font-size="38" fill="#1a1a1a" text-anchor="middle" letter-spacing="1.6"><tspan fill="#555">(</tspan>b<tspan fill="#555">)</tspan></text>
</svg>
</body></html>
